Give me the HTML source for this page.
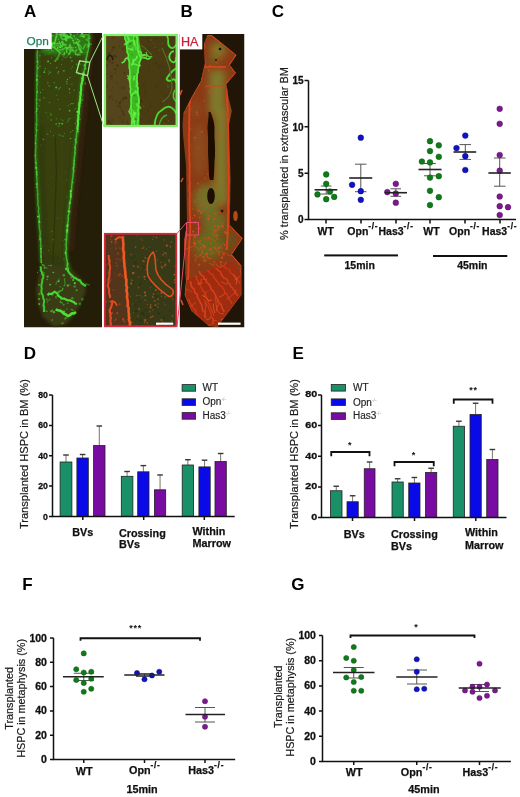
<!DOCTYPE html>
<html><head><meta charset="utf-8">
<style>
html,body{margin:0;padding:0;background:#fff;}
body{width:520px;height:797px;overflow:hidden;position:relative;}
svg{position:absolute;left:0;top:0;}
text{font-family:"Liberation Sans",Arial,sans-serif;}
.b{font-weight:bold;}
.lt{font-size:17px;font-weight:bold;fill:#000;}
.tk{font-size:10px;font-weight:bold;fill:#111;stroke:#111;stroke-width:0.3;}
.lb{stroke:#111;stroke-width:0.25;}
.ax{stroke:#111;stroke-width:1.5;fill:none;}
.gp{fill:#0e7a18;stroke:#0a5c10;stroke-width:0.5;}
.bp{fill:#1014c0;stroke:#080a90;stroke-width:0.5;}
.pp{fill:#7a1a8c;stroke:#5a0a6a;stroke-width:0.5;}
.ml{stroke:#222;stroke-width:1.6;}
.el{stroke:#555;stroke-width:1;}
.eb{stroke:#7a7670;stroke-width:1;}
.ec{stroke:#3a3632;stroke-width:1.4;}
.bar{stroke:#222;stroke-width:0.8;}
</style></head>
<body>
<svg width="520" height="797" viewBox="0 0 520 797">
<!-- panel letters -->
<text class="lt" x="24" y="16.8">A</text>
<text class="lt" x="180.5" y="16.8">B</text>
<text class="lt" x="271.8" y="16.8">C</text>
<text class="lt" x="23.8" y="358.8">D</text>
<text class="lt" x="292.5" y="358.8">E</text>
<text class="lt" x="22.3" y="590">F</text>
<text class="lt" x="291.3" y="589.6">G</text>

<defs>
  <filter id="bl" x="-5%" y="-5%" width="110%" height="110%"><feGaussianBlur stdDeviation="0.6"/></filter>
  <filter id="bl2" x="-10%" y="-10%" width="120%" height="120%"><feGaussianBlur stdDeviation="1.5"/></filter>
  <filter id="bl4" x="-30%" y="-30%" width="160%" height="160%"><feGaussianBlur stdDeviation="3.5"/></filter>
  <clipPath id="cA"><rect x="24" y="33" width="78" height="294.5"/></clipPath>
  <clipPath id="cB"><rect x="179.5" y="34" width="65" height="293.5"/></clipPath>
  <clipPath id="cG"><rect x="104" y="34" width="73.5" height="93"/></clipPath>
  <clipPath id="cR"><rect x="104" y="233" width="73" height="94"/></clipPath>
  <clipPath id="cBo"><path d="M207,35.4 L211.6,35.1 L236.5,54.9 L229.8,65 L235.9,73 L226.5,83.8 L227.8,94.6 L231.8,110.8 L229,125 L230.5,178.8 L229.8,225 L242.6,238.5 L231.8,254.6 L241.3,265.4 L241.3,295 L217,327.3 L209,326 L191.5,311 L184.7,295 L186,281.5 L184,240 L187,225 L186,165 L183,135 L182.5,125 L183.4,113.4 L191.5,97.3 L200.9,81.1 L204.9,63.6 L204.2,42.8 Z"/></clipPath>
</defs>
<g id="panelA" clip-path="url(#cA)">
<rect x="24" y="33" width="78" height="294.5" fill="#241d08"/>
<g filter="url(#bl2)">
<path d="M50,33 L93,33 L88,60 L84,80 L81,109 L77,140 L72.5,180 L68,218 L66,252 L67,262 L74,272 L84,282 L86,292 L80,304 L74,316 L66,324 L54,327 L44,318 L38,305 L36,290 L39,275 L41.3,263 L40.6,242 L37.6,195 L35.5,154 L36.5,120 L37,80 L37,52 L44,46 Z" fill="#333a0e"/>
<path d="M44,60 L78,58 L74,120 L66,200 L60,255 L50,255 L46,200 L44,120 Z" fill="#373f10"/>
<path d="M50,33 L90,33 L89,50 L82,58 L60,57 L40,52 Z" fill="#2e7818"/>
<path d="M38,54 L88,54 L82,120 L40,125 Z" fill="#384212" opacity="0.9"/>
<path d="M40,266 L68,266 L86,286 L80,306 L66,324 L54,327 L42,316 L37,292 Z" fill="#3a3a12"/>
<path d="M88,40 L84,80 L80,109 L77,140 L72.5,180 L68,218 L66,252 L74,250 L78,200 L84,140 L88,105 L93,60 L95,36 Z" fill="#36220c" opacity="0.85"/>
</g>
<path d="M55,135 L56.5,170 L55,210 L53,262" stroke="#2a2a0a" stroke-width="1.2" fill="none" opacity="0.6" filter="url(#bl)"/>
<path d="M62,140 L62,200 L60,262" stroke="#46461a" stroke-width="1" fill="none" opacity="0.6" filter="url(#bl)"/>
<g filter="url(#bl)">
<path d="M61.6,36.5 L61.9,34.2 L63.5,29.8" stroke="#52d83a" stroke-width="1.6" fill="none" opacity="0.51"/><path d="M51.6,42.6 L52.7,47.0 L55.1,48.1 L58.7,51.3 L60.6,53.9" stroke="#52d83a" stroke-width="1.6" fill="none" opacity="0.89"/><path d="M60.2,36.3 L62.7,39.4 L66.4,39.2 L68.0,37.5" stroke="#52d83a" stroke-width="1.6" fill="none" opacity="0.76"/><path d="M71.7,47.2 L68.8,47.8 L65.5,47.8 L61.6,49.8 L58.8,49.8" stroke="#52d83a" stroke-width="1.6" fill="none" opacity="0.69"/><path d="M70.1,53.1 L70.4,50.9 L70.8,48.5 L69.7,43.8" stroke="#52d83a" stroke-width="1.6" fill="none" opacity="0.61"/><path d="M88.4,34.8 L85.4,34.8 L81.0,35.0 L79.9,37.0" stroke="#52d83a" stroke-width="1.6" fill="none" opacity="0.53"/><path d="M77.3,34.5 L78.4,29.7 L80.8,28.1 L83.5,25.2" stroke="#52d83a" stroke-width="1.6" fill="none" opacity="0.41"/><path d="M67.4,36.9 L70.2,37.0 L72.8,38.9" stroke="#52d83a" stroke-width="1.6" fill="none" opacity="0.86"/><path d="M68.9,36.8 L64.6,35.5 L63.5,32.9 L61.8,30.3" stroke="#52d83a" stroke-width="1.6" fill="none" opacity="0.84"/><path d="M88.2,36.5 L88.4,38.5 L86.7,40.4" stroke="#52d83a" stroke-width="1.6" fill="none" opacity="0.54"/><path d="M54.1,45.3 L55.0,41.3 L55.9,37.6 L57.2,35.9" stroke="#52d83a" stroke-width="1.6" fill="none" opacity="0.85"/><path d="M80.8,53.1 L80.9,49.9 L81.0,46.7 L77.7,43.0" stroke="#52d83a" stroke-width="1.6" fill="none" opacity="0.62"/><path d="M52.6,46.8 L54.9,46.4 L56.7,45.3 L60.3,46.8 L62.7,45.5" stroke="#52d83a" stroke-width="1.6" fill="none" opacity="0.57"/><path d="M63.3,35.8 L64.9,33.4 L63.7,29.3 L64.7,26.0" stroke="#52d83a" stroke-width="1.6" fill="none" opacity="0.75"/><path d="M69.7,37.7 L71.2,34.4 L68.8,31.7 L70.8,27.5" stroke="#52d83a" stroke-width="1.6" fill="none" opacity="0.75"/><path d="M59.0,41.4 L60.8,45.4 L62.8,47.1" stroke="#52d83a" stroke-width="1.6" fill="none" opacity="0.81"/><path d="M81.9,51.8 L79.4,49.4 L78.3,44.5" stroke="#52d83a" stroke-width="1.6" fill="none" opacity="0.80"/><path d="M67.8,37.5 L63.7,35.0 L64.3,30.2 L63.8,27.6" stroke="#52d83a" stroke-width="1.6" fill="none" opacity="0.51"/><path d="M56.3,37.7 L56.4,34.3 L58.0,30.2 L55.8,26.9 L57.4,22.9" stroke="#52d83a" stroke-width="1.6" fill="none" opacity="0.78"/><path d="M68.1,37.1 L64.8,33.6 L64.1,30.2 L64.9,28.1" stroke="#52d83a" stroke-width="1.6" fill="none" opacity="0.48"/><path d="M89.7,33.6 L89.1,31.3 L91.5,27.0 L93.9,25.1" stroke="#52d83a" stroke-width="1.6" fill="none" opacity="0.67"/><path d="M53.5,33.3 L55.3,29.5 L53.2,25.0 L49.0,23.1 L47.0,24.9" stroke="#52d83a" stroke-width="1.6" fill="none" opacity="0.65"/><path d="M80.1,40.5 L77.1,43.5 L73.1,42.7" stroke="#52d83a" stroke-width="1.6" fill="none" opacity="0.81"/><path d="M69.7,52.0 L72.5,49.8 L71.6,46.6" stroke="#52d83a" stroke-width="1.6" fill="none" opacity="0.49"/><path d="M55.2,43.9 L51.5,42.5 L48.3,41.0 L46.2,36.8 L43.7,36.8" stroke="#52d83a" stroke-width="1.6" fill="none" opacity="0.42"/><path d="M52.1,43.4 L55.9,43.5 L59.5,43.7" stroke="#52d83a" stroke-width="1.6" fill="none" opacity="0.75"/><path d="M67.0,45.3 L62.6,43.7 L62.2,41.0" stroke="#52d83a" stroke-width="1.6" fill="none" opacity="0.68"/><path d="M53.8,35.8 L50.5,35.6 L48.1,37.4" stroke="#52d83a" stroke-width="1.6" fill="none" opacity="0.46"/><path d="M80.6,54.6 L76.0,54.4 L74.9,52.0 L77.0,49.5" stroke="#52d83a" stroke-width="1.6" fill="none" opacity="0.64"/><path d="M54.8,42.9 L51.7,43.2 L50.2,45.9 L49.9,49.3" stroke="#52d83a" stroke-width="1.6" fill="none" opacity="0.75"/><path d="M64.1,44.9 L67.0,48.7 L71.5,50.0" stroke="#52d83a" stroke-width="1.6" fill="none" opacity="0.44"/><path d="M59.4,53.8 L57.9,58.1 L54.6,61.6" stroke="#52d83a" stroke-width="1.6" fill="none" opacity="0.60"/><path d="M70.5,44.8 L69.4,46.7 L66.6,48.5 L66.7,53.3" stroke="#52d83a" stroke-width="1.6" fill="none" opacity="0.72"/><path d="M81.7,34.9 L81.9,32.6 L77.5,30.2" stroke="#52d83a" stroke-width="1.6" fill="none" opacity="0.61"/><path d="M86.4,47.3 L88.6,46.5 L89.5,44.5 L88.6,41.7 L85.6,38.7" stroke="#52d83a" stroke-width="1.6" fill="none" opacity="0.54"/><path d="M69.0,37.1 L66.9,36.6 L64.8,39.4" stroke="#52d83a" stroke-width="1.6" fill="none" opacity="0.89"/><path d="M69.6,38.7 L66.6,37.3 L62.5,35.4 L59.0,34.9 L55.0,32.0" stroke="#52d83a" stroke-width="1.6" fill="none" opacity="0.57"/><path d="M83.0,49.3 L85.1,44.8 L87.1,44.2 L91.7,44.2" stroke="#52d83a" stroke-width="1.6" fill="none" opacity="0.62"/>
<circle cx="50.3" cy="48.3" r="0.87" fill="#5ae840" opacity="0.70"/><circle cx="88.8" cy="46.8" r="1.08" fill="#5ae840" opacity="0.43"/><circle cx="55.8" cy="39.2" r="0.60" fill="#5ae840" opacity="0.62"/><circle cx="61.6" cy="33.8" r="1.22" fill="#5ae840" opacity="0.53"/><circle cx="55.7" cy="40.7" r="0.66" fill="#5ae840" opacity="0.57"/><circle cx="75.6" cy="38.7" r="1.14" fill="#5ae840" opacity="0.45"/><circle cx="82.3" cy="36.3" r="1.01" fill="#5ae840" opacity="0.64"/><circle cx="60.6" cy="47.5" r="0.66" fill="#5ae840" opacity="0.97"/><circle cx="83.8" cy="36.6" r="1.22" fill="#5ae840" opacity="0.87"/><circle cx="73.1" cy="50.6" r="1.10" fill="#5ae840" opacity="0.70"/><circle cx="59.9" cy="47.2" r="0.70" fill="#5ae840" opacity="0.89"/><circle cx="78.0" cy="44.8" r="0.90" fill="#5ae840" opacity="0.82"/><circle cx="69.2" cy="53.9" r="1.13" fill="#5ae840" opacity="0.74"/><circle cx="82.1" cy="33.4" r="1.08" fill="#5ae840" opacity="0.88"/><circle cx="77.9" cy="55.0" r="1.05" fill="#5ae840" opacity="0.45"/><circle cx="49.8" cy="47.7" r="1.27" fill="#5ae840" opacity="0.63"/><circle cx="67.0" cy="34.2" r="0.61" fill="#5ae840" opacity="0.72"/><circle cx="58.3" cy="39.1" r="0.92" fill="#5ae840" opacity="0.44"/><circle cx="51.9" cy="45.1" r="1.12" fill="#5ae840" opacity="0.68"/><circle cx="82.0" cy="52.5" r="0.76" fill="#5ae840" opacity="0.85"/><circle cx="57.7" cy="47.9" r="0.92" fill="#5ae840" opacity="0.91"/><circle cx="60.1" cy="34.1" r="1.04" fill="#5ae840" opacity="0.52"/><circle cx="73.2" cy="40.6" r="1.06" fill="#5ae840" opacity="0.82"/><circle cx="74.1" cy="36.1" r="0.94" fill="#5ae840" opacity="0.69"/><circle cx="88.8" cy="35.3" r="0.75" fill="#5ae840" opacity="0.69"/><circle cx="77.8" cy="39.6" r="0.93" fill="#5ae840" opacity="0.86"/><circle cx="61.1" cy="35.0" r="0.93" fill="#5ae840" opacity="0.57"/><circle cx="51.2" cy="44.7" r="1.30" fill="#5ae840" opacity="1.00"/><circle cx="64.2" cy="54.1" r="1.25" fill="#5ae840" opacity="0.44"/><circle cx="51.8" cy="50.2" r="0.78" fill="#5ae840" opacity="0.62"/><circle cx="73.3" cy="47.5" r="0.80" fill="#5ae840" opacity="0.47"/><circle cx="63.3" cy="44.5" r="1.21" fill="#5ae840" opacity="0.64"/><circle cx="76.6" cy="42.3" r="1.11" fill="#5ae840" opacity="0.65"/><circle cx="63.8" cy="35.8" r="0.83" fill="#5ae840" opacity="0.59"/><circle cx="62.2" cy="42.2" r="1.26" fill="#5ae840" opacity="0.52"/><circle cx="48.5" cy="50.0" r="0.78" fill="#5ae840" opacity="0.44"/><circle cx="64.4" cy="53.0" r="0.65" fill="#5ae840" opacity="0.96"/><circle cx="79.7" cy="52.6" r="0.80" fill="#5ae840" opacity="0.43"/><circle cx="75.8" cy="47.6" r="0.70" fill="#5ae840" opacity="0.98"/><circle cx="66.3" cy="40.3" r="1.14" fill="#5ae840" opacity="0.87"/>
<path d="M59.8,52.6 L61.9,51.4 L63.9,50.6 L64.1,48.5" stroke="#3cb02a" stroke-width="1.0" fill="none" opacity="0.48"/><path d="M76.4,108.0 L74.6,108.7 L73.9,110.3" stroke="#3cb02a" stroke-width="1.0" fill="none" opacity="0.41"/><path d="M51.0,116.5 L50.7,114.9 L50.5,113.2 L49.4,112.4" stroke="#3cb02a" stroke-width="1.0" fill="none" opacity="0.38"/><path d="M84.2,94.7 L82.7,95.7 L82.5,97.1 L83.7,98.2" stroke="#3cb02a" stroke-width="1.0" fill="none" opacity="0.34"/><path d="M50.2,73.3 L49.3,71.8 L48.0,70.4" stroke="#3cb02a" stroke-width="1.0" fill="none" opacity="0.45"/><path d="M55.2,55.6 L56.5,57.0 L57.4,59.1 L58.8,59.8" stroke="#3cb02a" stroke-width="1.0" fill="none" opacity="0.40"/><path d="M58.4,90.1 L59.0,88.5 L61.0,87.3" stroke="#3cb02a" stroke-width="1.0" fill="none" opacity="0.69"/><path d="M63.0,56.6 L65.2,57.6 L66.6,57.3 L67.5,55.7 L69.6,54.4" stroke="#3cb02a" stroke-width="1.0" fill="none" opacity="0.59"/><path d="M71.0,118.8 L69.9,118.4 L68.2,119.3 L68.3,121.4 L66.5,122.4" stroke="#3cb02a" stroke-width="1.0" fill="none" opacity="0.51"/><path d="M60.3,118.7 L61.8,120.0 L63.2,120.6 L64.2,121.3" stroke="#3cb02a" stroke-width="1.0" fill="none" opacity="0.42"/><path d="M61.5,136.3 L60.5,135.2 L58.1,134.6" stroke="#3cb02a" stroke-width="1.0" fill="none" opacity="0.58"/><path d="M53.7,52.0 L52.4,51.5 L50.8,52.1 L49.3,53.1 L47.2,53.5" stroke="#3cb02a" stroke-width="1.0" fill="none" opacity="0.44"/><path d="M58.2,50.6 L59.5,51.9 L61.7,52.1 L63.1,51.0 L63.9,48.8" stroke="#3cb02a" stroke-width="1.0" fill="none" opacity="0.34"/><path d="M69.8,104.9 L71.2,103.4 L72.5,103.7 L74.0,103.6" stroke="#3cb02a" stroke-width="1.0" fill="none" opacity="0.69"/>
<circle cx="45.2" cy="54.7" r="0.53" fill="#50c83c" opacity="0.54"/><circle cx="75.4" cy="139.8" r="0.97" fill="#50c83c" opacity="0.50"/><circle cx="47.5" cy="134.2" r="0.87" fill="#50c83c" opacity="0.32"/><circle cx="71.9" cy="84.1" r="0.69" fill="#50c83c" opacity="0.50"/><circle cx="46.6" cy="50.3" r="0.64" fill="#50c83c" opacity="0.51"/><circle cx="86.7" cy="61.1" r="0.98" fill="#50c83c" opacity="0.42"/><circle cx="56.2" cy="123.9" r="0.91" fill="#50c83c" opacity="0.56"/><circle cx="40.5" cy="92.6" r="0.69" fill="#50c83c" opacity="0.85"/><circle cx="47.8" cy="82.8" r="0.95" fill="#50c83c" opacity="0.32"/><circle cx="59.0" cy="123.1" r="0.88" fill="#50c83c" opacity="0.32"/><circle cx="39.8" cy="55.6" r="0.96" fill="#50c83c" opacity="0.45"/><circle cx="76.1" cy="130.9" r="0.67" fill="#50c83c" opacity="0.46"/><circle cx="51.4" cy="114.5" r="0.66" fill="#50c83c" opacity="0.47"/><circle cx="86.1" cy="52.2" r="0.62" fill="#50c83c" opacity="0.59"/><circle cx="57.7" cy="72.6" r="0.71" fill="#50c83c" opacity="0.60"/><circle cx="85.3" cy="66.5" r="0.90" fill="#50c83c" opacity="0.74"/><circle cx="80.0" cy="119.6" r="0.80" fill="#50c83c" opacity="0.50"/><circle cx="54.3" cy="82.6" r="0.89" fill="#50c83c" opacity="0.35"/><circle cx="48.1" cy="117.8" r="0.62" fill="#50c83c" opacity="0.34"/><circle cx="39.7" cy="99.7" r="0.66" fill="#50c83c" opacity="0.89"/><circle cx="51.5" cy="57.6" r="0.55" fill="#50c83c" opacity="0.60"/><circle cx="74.2" cy="90.2" r="0.62" fill="#50c83c" opacity="0.55"/><circle cx="69.6" cy="110.7" r="0.87" fill="#50c83c" opacity="0.81"/><circle cx="71.9" cy="60.9" r="0.92" fill="#50c83c" opacity="0.48"/><circle cx="66.9" cy="83.6" r="0.87" fill="#50c83c" opacity="0.42"/><circle cx="50.6" cy="72.1" r="0.58" fill="#50c83c" opacity="0.83"/><circle cx="67.5" cy="79.4" r="0.70" fill="#50c83c" opacity="0.90"/><circle cx="63.9" cy="70.8" r="0.90" fill="#50c83c" opacity="0.69"/><circle cx="62.2" cy="123.7" r="0.92" fill="#50c83c" opacity="0.85"/><circle cx="40.1" cy="76.4" r="0.56" fill="#50c83c" opacity="0.41"/><circle cx="85.4" cy="83.5" r="0.93" fill="#50c83c" opacity="0.57"/><circle cx="51.3" cy="120.0" r="0.97" fill="#50c83c" opacity="0.36"/><circle cx="68.4" cy="105.8" r="0.61" fill="#50c83c" opacity="0.52"/><circle cx="45.2" cy="68.4" r="0.63" fill="#50c83c" opacity="0.66"/><circle cx="71.2" cy="68.3" r="0.51" fill="#50c83c" opacity="0.50"/><circle cx="72.6" cy="66.7" r="0.66" fill="#50c83c" opacity="0.42"/><circle cx="78.6" cy="99.3" r="0.53" fill="#50c83c" opacity="0.36"/><circle cx="58.2" cy="99.5" r="0.82" fill="#50c83c" opacity="0.35"/><circle cx="46.3" cy="112.6" r="0.70" fill="#50c83c" opacity="0.47"/><circle cx="53.7" cy="135.8" r="0.66" fill="#50c83c" opacity="0.64"/><circle cx="56.2" cy="87.5" r="0.93" fill="#50c83c" opacity="0.90"/><circle cx="56.6" cy="67.7" r="0.86" fill="#50c83c" opacity="0.42"/><circle cx="59.6" cy="123.8" r="0.70" fill="#50c83c" opacity="0.83"/><circle cx="61.5" cy="64.6" r="0.51" fill="#50c83c" opacity="0.63"/><circle cx="70.7" cy="131.9" r="0.54" fill="#50c83c" opacity="0.67"/><circle cx="56.9" cy="95.4" r="0.57" fill="#50c83c" opacity="0.47"/><circle cx="64.6" cy="133.3" r="0.55" fill="#50c83c" opacity="0.59"/><circle cx="48.1" cy="61.4" r="0.97" fill="#50c83c" opacity="0.89"/><circle cx="62.6" cy="54.8" r="0.96" fill="#50c83c" opacity="0.53"/><circle cx="80.1" cy="64.4" r="0.89" fill="#50c83c" opacity="0.43"/><circle cx="58.6" cy="126.2" r="0.91" fill="#50c83c" opacity="0.41"/><circle cx="49.1" cy="86.0" r="0.76" fill="#50c83c" opacity="0.53"/><circle cx="44.3" cy="72.2" r="0.86" fill="#50c83c" opacity="0.84"/><circle cx="40.1" cy="100.6" r="0.88" fill="#50c83c" opacity="0.32"/><circle cx="80.7" cy="60.6" r="0.80" fill="#50c83c" opacity="0.63"/><circle cx="70.0" cy="77.6" r="0.71" fill="#50c83c" opacity="0.65"/><circle cx="59.7" cy="109.3" r="0.72" fill="#50c83c" opacity="0.56"/><circle cx="39.2" cy="105.7" r="0.74" fill="#50c83c" opacity="0.44"/><circle cx="76.9" cy="120.2" r="0.73" fill="#50c83c" opacity="0.41"/><circle cx="62.1" cy="59.6" r="0.56" fill="#50c83c" opacity="0.56"/><circle cx="42.7" cy="89.8" r="0.76" fill="#50c83c" opacity="0.32"/><circle cx="70.5" cy="57.4" r="0.87" fill="#50c83c" opacity="0.77"/><circle cx="64.1" cy="54.9" r="0.75" fill="#50c83c" opacity="0.53"/><circle cx="86.5" cy="62.3" r="0.93" fill="#50c83c" opacity="0.90"/><circle cx="75.3" cy="123.3" r="0.60" fill="#50c83c" opacity="0.89"/><circle cx="63.1" cy="136.1" r="0.96" fill="#50c83c" opacity="0.40"/><circle cx="78.2" cy="133.8" r="0.53" fill="#50c83c" opacity="0.51"/><circle cx="76.6" cy="64.3" r="0.95" fill="#50c83c" opacity="0.46"/><circle cx="79.6" cy="62.9" r="0.75" fill="#50c83c" opacity="0.85"/><circle cx="48.6" cy="73.7" r="0.75" fill="#50c83c" opacity="0.49"/><circle cx="39.9" cy="66.4" r="0.58" fill="#50c83c" opacity="0.86"/><circle cx="72.7" cy="130.6" r="0.58" fill="#50c83c" opacity="0.77"/><circle cx="43.9" cy="97.8" r="0.82" fill="#50c83c" opacity="0.52"/><circle cx="82.5" cy="100.0" r="0.79" fill="#50c83c" opacity="0.83"/><circle cx="43.3" cy="139.4" r="0.81" fill="#50c83c" opacity="0.54"/><circle cx="78.7" cy="73.8" r="1.00" fill="#50c83c" opacity="0.65"/><circle cx="56.4" cy="118.8" r="0.72" fill="#50c83c" opacity="0.41"/><circle cx="75.9" cy="54.3" r="0.91" fill="#50c83c" opacity="0.45"/><circle cx="70.6" cy="138.6" r="0.79" fill="#50c83c" opacity="0.70"/><circle cx="53.9" cy="50.2" r="0.52" fill="#50c83c" opacity="0.39"/><circle cx="69.4" cy="88.9" r="0.76" fill="#50c83c" opacity="0.84"/><circle cx="44.7" cy="70.5" r="0.83" fill="#50c83c" opacity="0.31"/><circle cx="38.1" cy="81.9" r="0.55" fill="#50c83c" opacity="0.51"/><circle cx="49.4" cy="102.5" r="0.79" fill="#50c83c" opacity="0.42"/><circle cx="69.8" cy="92.7" r="0.57" fill="#50c83c" opacity="0.86"/><circle cx="50.4" cy="63.4" r="0.55" fill="#50c83c" opacity="0.68"/><circle cx="58.5" cy="73.8" r="0.51" fill="#50c83c" opacity="0.69"/><circle cx="66.7" cy="81.5" r="0.82" fill="#50c83c" opacity="0.57"/><circle cx="50.7" cy="131.3" r="0.52" fill="#50c83c" opacity="0.62"/><circle cx="58.7" cy="71.4" r="0.53" fill="#50c83c" opacity="0.77"/>
<circle cx="73.9" cy="157.4" r="0.48" fill="#4aa834" opacity="0.44"/><circle cx="58.3" cy="218.3" r="0.73" fill="#4aa834" opacity="0.27"/><circle cx="51.1" cy="176.6" r="0.42" fill="#4aa834" opacity="0.56"/><circle cx="68.2" cy="227.3" r="0.40" fill="#4aa834" opacity="0.54"/><circle cx="66.8" cy="196.8" r="0.70" fill="#4aa834" opacity="0.38"/><circle cx="48.1" cy="152.8" r="0.49" fill="#4aa834" opacity="0.22"/><circle cx="52.1" cy="231.5" r="0.68" fill="#4aa834" opacity="0.54"/><circle cx="65.6" cy="172.5" r="0.62" fill="#4aa834" opacity="0.37"/><circle cx="68.4" cy="203.8" r="0.51" fill="#4aa834" opacity="0.46"/><circle cx="71.7" cy="141.9" r="0.50" fill="#4aa834" opacity="0.29"/><circle cx="66.9" cy="179.9" r="0.75" fill="#4aa834" opacity="0.33"/><circle cx="48.6" cy="250.7" r="0.65" fill="#4aa834" opacity="0.48"/><circle cx="63.9" cy="259.4" r="0.59" fill="#4aa834" opacity="0.54"/><circle cx="65.1" cy="244.6" r="0.57" fill="#4aa834" opacity="0.49"/><circle cx="60.5" cy="177.5" r="0.48" fill="#4aa834" opacity="0.45"/><circle cx="42.8" cy="251.1" r="0.46" fill="#4aa834" opacity="0.21"/><circle cx="43.8" cy="253.3" r="0.54" fill="#4aa834" opacity="0.26"/><circle cx="41.0" cy="145.1" r="0.68" fill="#4aa834" opacity="0.45"/><circle cx="65.1" cy="229.9" r="0.43" fill="#4aa834" opacity="0.44"/><circle cx="53.1" cy="239.7" r="0.73" fill="#4aa834" opacity="0.56"/><circle cx="42.4" cy="245.9" r="0.77" fill="#4aa834" opacity="0.58"/><circle cx="43.9" cy="165.1" r="0.44" fill="#4aa834" opacity="0.21"/><circle cx="62.8" cy="240.7" r="0.65" fill="#4aa834" opacity="0.31"/><circle cx="43.6" cy="151.9" r="0.70" fill="#4aa834" opacity="0.28"/><circle cx="51.5" cy="191.7" r="0.41" fill="#4aa834" opacity="0.30"/>
<path d="M37.4,50.1 L37.4,51.9 L37.6,54.0 L37.5,56.0 L37.2,58.0 L37.3,60.1 L37.2,62.1 L37.3,63.9 L37.4,65.8 L37.3,67.9 L37.0,69.9 L37.2,72.2 L36.9,74.0 L37.1,76.1 L36.9,78.0 L36.9,80.1 L36.9,82.2 L36.9,83.9 L37.0,86.0 L36.7,88.1 L36.7,90.1 L36.9,92.1 L36.9,93.9 L36.8,96.0 L36.9,97.8 L36.9,99.8 L36.6,101.9 L36.9,104.0 L36.6,106.2 L36.5,108.0 L36.6,110.1 L36.7,112.1 L36.5,113.9 L36.4,116.1 L36.6,118.1 L36.4,120.0 L36.6,122.0 L36.2,124.0 L36.5,125.9 L36.1,127.9 L36.3,130.1 L36.0,131.9 L36.0,133.9 L36.0,135.9 L35.9,137.9 L36.1,140.1 L35.7,142.2 L35.6,144.0 L35.9,146.1 L35.8,148.0 L35.5,150.1 L35.4,151.9 L35.5,153.8 L35.6,156.2 L35.8,158.1 L35.9,160.1 L35.8,162.2 L36.0,164.3 L36.3,166.3 L36.3,168.4 L36.3,170.3 L36.5,172.6 L36.7,174.6 L36.8,176.6 L36.8,178.6 L36.8,180.7 L36.8,182.7 L37.2,184.8 L37.2,186.7 L37.3,188.8 L37.4,190.9 L37.6,193.1 L37.5,195.1 L37.8,197.0 L37.9,199.3 L37.8,201.1 L38.0,203.3 L38.4,205.2 L38.2,207.3 L38.5,209.4 L38.6,211.4 L38.9,213.4 L38.9,215.6 L38.9,217.6 L39.1,219.6 L39.1,221.8 L39.4,223.4 L39.5,225.6 L39.5,227.7 L39.8,229.8 L39.9,231.7 L40.0,233.9 L40.4,235.9 L40.2,238.0 L40.4,239.8 L40.5,242.1 L40.8,244.2 L40.7,246.2 L40.7,248.5 L40.8,250.5 L41.1,252.6 L41.0,254.5 L41.1,256.6 L41.3,258.7 L41.4,260.8 L41.3,263.0" stroke="#2f8a1c" stroke-width="4" fill="none" opacity="0.55" filter="url(#bl2)"/>
<path d="M37.4,49.8 L37.4,51.7 L37.0,54.2 L37.2,55.8 L37.2,58.0 L37.3,60.1 L37.4,61.9 L37.6,64.3 L36.9,66.3 L37.5,68.2 L36.9,70.3 L37.2,71.6 L36.7,74.4 L37.2,75.8 L36.7,77.7 L36.8,80.2 L36.9,81.7 L37.3,84.2 L36.7,86.3 L37.0,88.2 L37.0,90.3 L37.1,92.3 L36.6,94.2 L36.8,96.2 L36.7,98.3 L36.8,99.8 L36.5,101.7 L36.7,103.6 L36.6,105.7 L36.6,108.0 L36.7,110.3 L36.2,112.3 L36.5,114.1 L36.7,116.3 L36.4,117.9 L36.9,119.7 L36.6,122.1 L36.0,124.1 L36.5,126.3 L36.1,128.4 L36.2,130.0 L36.5,131.6 L36.3,134.1 L35.9,136.3 L35.9,138.0 L35.9,140.2 L35.6,141.9 L35.7,144.0 L36.0,145.8 L35.9,147.9 L35.6,149.8 L35.6,152.4 L35.6,154.2 L35.5,155.9 L35.5,158.2 L35.9,160.4 L35.6,162.4 L36.3,164.3 L35.8,166.1 L35.8,168.1 L36.7,170.5 L36.6,172.7 L36.9,174.6 L36.7,176.7 L36.9,178.7 L37.0,180.4 L37.1,182.7 L37.3,184.4 L36.9,186.4 L37.5,189.2 L37.5,190.8 L37.8,193.2 L37.6,194.8 L37.6,197.0 L37.7,199.0 L38.1,201.5 L37.8,203.2 L37.9,204.9 L38.6,207.3 L38.8,209.3 L38.3,211.3 L38.8,213.7 L39.3,215.4 L39.0,217.2 L39.3,219.3 L39.0,221.2 L39.0,223.8 L39.3,226.0 L39.4,228.0 L39.5,229.4 L40.1,231.6 L40.3,233.6 L39.8,236.1 L40.5,238.2 L40.7,239.6 L40.7,242.2 L40.6,244.4 L40.5,246.6 L41.0,247.9 L40.5,250.5 L41.2,252.2 L40.9,254.8 L40.8,257.0 L41.1,258.4 L41.1,261.0 L41.3,263.0" stroke="#42ac30" stroke-width="1.4" fill="none" opacity="0.9"/>
<circle cx="35.7" cy="143.3" r="0.90" fill="#56e040" opacity="0.62"/><circle cx="36.9" cy="187.0" r="0.69" fill="#56e040" opacity="0.87"/><circle cx="41.0" cy="250.6" r="0.65" fill="#56e040" opacity="0.44"/><circle cx="40.8" cy="256.6" r="0.67" fill="#56e040" opacity="0.76"/><circle cx="41.5" cy="257.6" r="0.65" fill="#56e040" opacity="0.66"/><circle cx="39.9" cy="239.7" r="0.80" fill="#56e040" opacity="0.94"/><circle cx="39.3" cy="222.0" r="0.63" fill="#56e040" opacity="0.65"/><circle cx="37.0" cy="174.1" r="0.52" fill="#56e040" opacity="0.90"/><circle cx="39.8" cy="222.4" r="0.64" fill="#56e040" opacity="0.91"/><circle cx="38.9" cy="220.9" r="0.67" fill="#56e040" opacity="0.45"/><circle cx="36.3" cy="167.7" r="0.88" fill="#56e040" opacity="0.96"/><circle cx="36.2" cy="99.4" r="0.73" fill="#56e040" opacity="0.52"/><circle cx="36.7" cy="103.4" r="0.73" fill="#56e040" opacity="0.45"/><circle cx="39.4" cy="221.5" r="0.79" fill="#56e040" opacity="0.94"/><circle cx="39.8" cy="238.4" r="0.79" fill="#56e040" opacity="0.51"/><circle cx="37.2" cy="91.7" r="0.68" fill="#56e040" opacity="0.74"/><circle cx="35.8" cy="135.8" r="0.52" fill="#56e040" opacity="1.00"/><circle cx="36.8" cy="130.2" r="0.89" fill="#56e040" opacity="0.49"/><circle cx="36.4" cy="177.8" r="0.51" fill="#56e040" opacity="0.42"/><circle cx="41.6" cy="260.5" r="0.78" fill="#56e040" opacity="0.56"/><circle cx="37.9" cy="216.5" r="0.88" fill="#56e040" opacity="0.89"/><circle cx="41.0" cy="255.4" r="0.60" fill="#56e040" opacity="0.51"/><circle cx="37.8" cy="68.0" r="0.94" fill="#56e040" opacity="0.67"/><circle cx="41.1" cy="251.7" r="0.80" fill="#56e040" opacity="0.64"/><circle cx="37.4" cy="75.5" r="0.78" fill="#56e040" opacity="0.78"/><circle cx="40.7" cy="253.3" r="0.72" fill="#56e040" opacity="0.50"/><circle cx="41.4" cy="255.7" r="0.52" fill="#56e040" opacity="0.55"/><circle cx="37.2" cy="124.4" r="0.92" fill="#56e040" opacity="0.43"/><circle cx="38.9" cy="216.8" r="0.99" fill="#56e040" opacity="0.43"/><circle cx="37.0" cy="79.7" r="0.84" fill="#56e040" opacity="0.58"/><circle cx="36.6" cy="175.8" r="0.66" fill="#56e040" opacity="0.55"/><circle cx="36.8" cy="76.5" r="0.62" fill="#56e040" opacity="0.49"/><circle cx="38.4" cy="194.4" r="0.60" fill="#56e040" opacity="0.42"/><circle cx="41.0" cy="248.7" r="0.93" fill="#56e040" opacity="0.93"/><circle cx="36.8" cy="79.9" r="0.96" fill="#56e040" opacity="0.91"/><circle cx="36.6" cy="184.0" r="0.91" fill="#56e040" opacity="0.69"/><circle cx="37.3" cy="184.1" r="0.53" fill="#56e040" opacity="0.83"/><circle cx="36.8" cy="168.7" r="0.63" fill="#56e040" opacity="0.65"/><circle cx="36.8" cy="84.1" r="0.67" fill="#56e040" opacity="0.50"/><circle cx="35.1" cy="155.6" r="0.56" fill="#56e040" opacity="0.99"/><circle cx="37.9" cy="61.7" r="0.61" fill="#56e040" opacity="0.69"/><circle cx="36.6" cy="111.3" r="0.68" fill="#56e040" opacity="0.99"/><circle cx="41.5" cy="262.5" r="0.64" fill="#56e040" opacity="0.94"/><circle cx="37.2" cy="61.8" r="0.99" fill="#56e040" opacity="0.41"/><circle cx="39.2" cy="222.1" r="0.50" fill="#56e040" opacity="0.90"/><circle cx="36.1" cy="162.7" r="0.96" fill="#56e040" opacity="0.53"/><circle cx="36.6" cy="172.0" r="0.89" fill="#56e040" opacity="0.83"/><circle cx="37.0" cy="92.0" r="0.80" fill="#56e040" opacity="0.70"/><circle cx="36.8" cy="109.0" r="0.85" fill="#56e040" opacity="0.89"/><circle cx="36.6" cy="174.4" r="0.87" fill="#56e040" opacity="0.64"/>
<path d="M89.1,35.8 L89.0,37.9 L89.0,40.1 L88.7,41.8 L88.8,44.0 L88.7,45.9 L88.4,48.1 L88.0,49.9 L87.6,52.0 L87.1,54.0 L86.8,56.0 L86.3,58.1 L86.1,60.1 L85.6,62.1 L85.3,64.1 L84.8,66.1 L84.8,68.0 L84.3,70.0 L84.0,71.8 L83.8,73.9 L83.0,75.8 L82.7,78.1 L82.1,79.8 L82.0,81.9 L81.3,84.0 L81.3,86.1 L81.2,88.0 L81.0,90.4 L80.5,92.2 L80.5,94.5 L80.2,96.4 L80.1,98.6 L79.9,100.9 L79.6,102.9 L79.6,104.9 L79.5,107.3 L79.1,109.1 L79.1,111.3 L78.8,113.5 L78.8,115.4 L78.4,117.4 L78.3,119.8 L78.3,121.8 L78.1,123.9 L77.7,125.8 L77.8,128.1 L77.4,130.0 L77.2,132.1 L76.9,134.1 L76.5,136.4 L76.0,138.4 L76.1,140.8 L75.8,142.9 L75.6,145.0 L75.4,146.8 L75.2,149.0 L75.0,151.1 L74.8,153.4 L74.6,155.2 L74.4,157.4 L74.4,159.4 L74.0,161.7 L73.8,163.7 L73.9,165.8 L73.5,167.9 L73.4,169.8 L73.1,171.9 L73.0,174.1 L72.8,176.1 L72.6,178.3 L72.7,180.4 L72.4,182.5 L72.0,184.7 L71.8,186.7 L71.6,188.7 L71.3,190.7 L71.0,192.9 L70.8,195.1 L70.4,197.1 L70.5,199.1 L70.1,201.3 L69.8,203.6 L69.5,205.6 L69.2,207.4 L69.2,209.6 L68.7,211.7 L68.6,213.9 L68.2,215.8 L68.3,218.1 L67.8,219.9 L67.8,222.1 L67.8,224.1 L67.7,226.0 L67.5,228.1 L67.4,230.0 L67.3,232.1 L67.2,233.9 L67.1,235.8 L66.9,238.0 L66.7,240.2 L66.6,242.0 L66.5,244.1 L66.3,246.0 L66.1,248.0 L66.1,249.9 L65.9,252.0 L66.1,253.9 L66.5,256.1 L66.6,258.0 L66.7,259.9 L66.9,262.0 L67.4,263.8 L67.8,265.9 L68.1,268.1 L68.3,270.0" stroke="#2f8a1c" stroke-width="4" fill="none" opacity="0.55" filter="url(#bl2)"/>
<path d="M89.4,35.8 L88.9,38.3 L88.4,39.6 L88.8,42.0 L89.0,44.2 L88.6,46.4 L88.5,48.0 L88.2,49.9 L87.6,52.1 L87.1,54.4 L87.0,56.0 L86.1,57.9 L85.9,60.0 L85.7,62.3 L85.7,64.0 L85.0,66.1 L85.1,67.9 L84.4,70.3 L83.7,71.9 L84.0,74.3 L83.2,75.7 L83.1,78.2 L82.6,80.4 L82.2,81.9 L81.2,83.8 L81.3,86.1 L80.9,87.9 L81.0,90.4 L80.6,92.8 L80.6,94.1 L80.2,96.8 L79.9,98.9 L79.5,100.6 L80.0,103.0 L79.6,104.8 L79.3,107.1 L79.0,109.3 L79.0,111.6 L78.9,113.3 L78.4,115.1 L78.7,117.2 L78.0,119.3 L78.2,121.9 L78.1,124.0 L77.5,125.4 L77.9,127.8 L77.7,129.9 L76.9,131.9 L76.5,134.6 L76.6,136.3 L76.2,138.4 L75.6,141.0 L75.7,143.2 L75.4,145.0 L75.1,146.6 L75.4,149.4 L74.8,151.5 L75.0,153.1 L74.7,155.7 L74.4,157.8 L74.1,159.4 L74.3,161.4 L73.8,164.0 L73.8,166.0 L73.4,167.6 L73.3,169.7 L73.6,171.9 L73.1,173.8 L73.0,176.1 L72.7,178.0 L72.3,180.7 L72.2,182.3 L71.9,184.4 L71.6,186.3 L71.7,188.6 L71.1,191.0 L70.8,192.7 L71.1,194.7 L70.6,197.4 L70.6,198.9 L70.0,201.5 L69.8,203.7 L69.4,205.8 L69.4,207.3 L69.1,209.3 L69.0,211.5 L68.9,213.9 L68.2,215.7 L68.2,217.8 L68.3,219.7 L67.9,222.0 L67.5,224.2 L67.5,226.1 L67.5,227.8 L67.2,229.7 L66.9,232.3 L66.9,234.1 L66.6,236.0 L66.7,238.0 L66.5,239.7 L66.4,241.8 L66.1,244.2 L66.1,245.9 L66.5,248.2 L66.3,250.3 L65.6,251.8 L65.7,254.1 L66.5,255.9 L66.5,258.1 L66.9,259.8 L67.3,261.9 L67.4,263.7 L67.3,266.3 L68.2,268.2 L68.3,270.0" stroke="#46b832" stroke-width="1.5" fill="none" opacity="0.95"/>
<circle cx="88.9" cy="45.6" r="0.62" fill="#5aec44" opacity="0.58"/><circle cx="78.4" cy="125.0" r="0.88" fill="#5aec44" opacity="0.51"/><circle cx="66.3" cy="232.0" r="0.65" fill="#5aec44" opacity="0.66"/><circle cx="70.7" cy="196.0" r="1.00" fill="#5aec44" opacity="0.87"/><circle cx="80.9" cy="103.0" r="0.86" fill="#5aec44" opacity="0.43"/><circle cx="81.5" cy="93.6" r="0.63" fill="#5aec44" opacity="0.95"/><circle cx="69.7" cy="211.7" r="0.74" fill="#5aec44" opacity="0.85"/><circle cx="67.3" cy="230.1" r="1.07" fill="#5aec44" opacity="0.65"/><circle cx="65.7" cy="252.8" r="1.00" fill="#5aec44" opacity="0.78"/><circle cx="76.6" cy="142.0" r="0.76" fill="#5aec44" opacity="0.71"/><circle cx="66.7" cy="254.0" r="0.53" fill="#5aec44" opacity="0.82"/><circle cx="67.6" cy="225.2" r="1.08" fill="#5aec44" opacity="0.78"/><circle cx="74.0" cy="163.3" r="0.71" fill="#5aec44" opacity="0.65"/><circle cx="81.6" cy="83.1" r="0.92" fill="#5aec44" opacity="0.80"/><circle cx="80.8" cy="92.0" r="0.77" fill="#5aec44" opacity="0.96"/><circle cx="78.1" cy="119.2" r="0.59" fill="#5aec44" opacity="0.74"/><circle cx="79.1" cy="113.1" r="0.96" fill="#5aec44" opacity="0.50"/><circle cx="70.7" cy="191.5" r="0.96" fill="#5aec44" opacity="0.90"/><circle cx="85.4" cy="63.2" r="0.62" fill="#5aec44" opacity="0.44"/><circle cx="80.1" cy="102.3" r="0.77" fill="#5aec44" opacity="0.47"/><circle cx="78.4" cy="111.8" r="0.60" fill="#5aec44" opacity="0.44"/><circle cx="89.9" cy="38.5" r="0.55" fill="#5aec44" opacity="0.83"/><circle cx="67.3" cy="265.3" r="0.79" fill="#5aec44" opacity="0.66"/><circle cx="82.2" cy="80.1" r="1.05" fill="#5aec44" opacity="0.79"/><circle cx="73.1" cy="182.4" r="0.65" fill="#5aec44" opacity="0.55"/><circle cx="85.6" cy="68.5" r="1.00" fill="#5aec44" opacity="0.58"/><circle cx="81.8" cy="78.3" r="1.06" fill="#5aec44" opacity="0.50"/><circle cx="68.5" cy="218.6" r="0.70" fill="#5aec44" opacity="0.51"/><circle cx="67.1" cy="229.6" r="0.83" fill="#5aec44" opacity="0.62"/><circle cx="67.3" cy="230.7" r="0.84" fill="#5aec44" opacity="0.78"/><circle cx="67.1" cy="226.5" r="1.07" fill="#5aec44" opacity="0.70"/><circle cx="75.1" cy="153.1" r="0.85" fill="#5aec44" opacity="0.45"/><circle cx="71.0" cy="197.4" r="1.08" fill="#5aec44" opacity="0.45"/><circle cx="88.2" cy="45.5" r="0.93" fill="#5aec44" opacity="0.40"/><circle cx="67.8" cy="231.9" r="0.76" fill="#5aec44" opacity="0.57"/><circle cx="70.7" cy="190.6" r="0.70" fill="#5aec44" opacity="0.66"/><circle cx="71.8" cy="190.6" r="0.60" fill="#5aec44" opacity="0.58"/><circle cx="75.6" cy="139.2" r="0.62" fill="#5aec44" opacity="0.45"/><circle cx="77.4" cy="111.9" r="1.05" fill="#5aec44" opacity="0.92"/><circle cx="68.1" cy="263.8" r="0.99" fill="#5aec44" opacity="0.44"/><circle cx="70.6" cy="193.8" r="0.84" fill="#5aec44" opacity="0.97"/><circle cx="74.9" cy="147.8" r="0.71" fill="#5aec44" opacity="0.93"/><circle cx="89.1" cy="43.4" r="0.77" fill="#5aec44" opacity="0.45"/><circle cx="70.9" cy="191.0" r="0.75" fill="#5aec44" opacity="0.72"/><circle cx="73.4" cy="168.2" r="0.61" fill="#5aec44" opacity="0.93"/><circle cx="74.8" cy="164.9" r="0.65" fill="#5aec44" opacity="0.46"/><circle cx="74.2" cy="160.7" r="0.83" fill="#5aec44" opacity="0.54"/><circle cx="74.0" cy="170.3" r="0.85" fill="#5aec44" opacity="0.45"/><circle cx="77.9" cy="131.6" r="1.02" fill="#5aec44" opacity="0.73"/><circle cx="69.9" cy="202.8" r="1.09" fill="#5aec44" opacity="0.83"/><circle cx="86.3" cy="59.3" r="0.60" fill="#5aec44" opacity="0.98"/><circle cx="73.7" cy="167.3" r="0.97" fill="#5aec44" opacity="0.43"/><circle cx="80.8" cy="91.2" r="0.86" fill="#5aec44" opacity="0.53"/><circle cx="79.3" cy="105.3" r="1.03" fill="#5aec44" opacity="0.77"/><circle cx="65.4" cy="239.5" r="1.02" fill="#5aec44" opacity="0.50"/><circle cx="68.5" cy="211.2" r="0.91" fill="#5aec44" opacity="0.90"/><circle cx="84.6" cy="65.3" r="1.07" fill="#5aec44" opacity="0.83"/><circle cx="88.4" cy="46.1" r="0.83" fill="#5aec44" opacity="0.88"/><circle cx="86.4" cy="61.9" r="0.65" fill="#5aec44" opacity="0.52"/><circle cx="76.4" cy="139.6" r="0.57" fill="#5aec44" opacity="0.41"/>
<path d="M83.6,72.3 L83.3,74.1 L83.0,76.2 L82.6,77.6 L82.7,80.0 L82.1,82.3 L81.9,83.5 L81.1,85.8 L81.1,88.6 L81.2,89.8 L80.4,92.7 L80.7,94.4 L80.3,96.3 L80.4,98.6 L80.3,100.9 L79.3,102.7 L79.2,105.4 L79.4,106.6 L78.8,109.0 L79.0,111.3 L78.7,113.2 L78.2,115.5 L78.3,117.0 L78.3,120.1 L77.7,121.3 L78.2,123.5 L77.6,125.8 L77.4,128.0 L77.5,130.0" stroke="#50e83a" stroke-width="2" fill="none"/>
<circle cx="62.4" cy="323.3" r="1.29" fill="#46c834" opacity="0.42"/><circle cx="64.0" cy="311.8" r="1.21" fill="#46c834" opacity="0.86"/><circle cx="67.7" cy="303.3" r="0.85" fill="#46c834" opacity="0.57"/><circle cx="51.2" cy="311.3" r="1.12" fill="#46c834" opacity="0.71"/><circle cx="67.8" cy="285.7" r="0.99" fill="#46c834" opacity="0.64"/><circle cx="39.0" cy="284.9" r="0.83" fill="#46c834" opacity="0.99"/><circle cx="60.1" cy="286.8" r="0.77" fill="#46c834" opacity="0.54"/><circle cx="53.5" cy="272.4" r="0.61" fill="#46c834" opacity="0.92"/><circle cx="58.7" cy="291.6" r="1.00" fill="#46c834" opacity="0.58"/><circle cx="44.4" cy="268.1" r="0.81" fill="#46c834" opacity="0.59"/><circle cx="72.3" cy="298.2" r="1.26" fill="#46c834" opacity="0.60"/><circle cx="82.1" cy="300.2" r="0.66" fill="#46c834" opacity="0.51"/><circle cx="53.8" cy="312.0" r="0.90" fill="#46c834" opacity="0.92"/><circle cx="39.4" cy="294.0" r="1.23" fill="#46c834" opacity="0.57"/><circle cx="48.9" cy="265.4" r="0.72" fill="#46c834" opacity="0.56"/><circle cx="71.2" cy="277.5" r="0.88" fill="#46c834" opacity="0.52"/><circle cx="66.1" cy="317.6" r="1.05" fill="#46c834" opacity="0.52"/><circle cx="66.1" cy="268.9" r="1.17" fill="#46c834" opacity="0.93"/><circle cx="53.1" cy="272.5" r="0.73" fill="#46c834" opacity="0.72"/><circle cx="79.8" cy="303.7" r="1.25" fill="#46c834" opacity="0.53"/><circle cx="52.3" cy="310.5" r="1.05" fill="#46c834" opacity="0.64"/><circle cx="69.9" cy="284.9" r="0.64" fill="#46c834" opacity="0.65"/><circle cx="52.7" cy="294.7" r="1.02" fill="#46c834" opacity="0.55"/><circle cx="82.3" cy="299.0" r="1.29" fill="#46c834" opacity="0.43"/><circle cx="66.7" cy="308.9" r="0.83" fill="#46c834" opacity="0.46"/><circle cx="43.8" cy="272.8" r="1.14" fill="#46c834" opacity="0.45"/><circle cx="76.7" cy="290.2" r="0.98" fill="#46c834" opacity="0.75"/><circle cx="63.7" cy="304.8" r="1.02" fill="#46c834" opacity="0.60"/><circle cx="73.1" cy="280.0" r="1.10" fill="#46c834" opacity="0.86"/><circle cx="74.8" cy="283.2" r="1.14" fill="#46c834" opacity="0.99"/><circle cx="58.7" cy="281.3" r="0.97" fill="#46c834" opacity="0.96"/><circle cx="42.6" cy="264.6" r="0.93" fill="#46c834" opacity="0.79"/><circle cx="74.7" cy="286.5" r="1.29" fill="#46c834" opacity="0.54"/><circle cx="37.4" cy="272.3" r="0.64" fill="#46c834" opacity="0.70"/><circle cx="63.8" cy="275.3" r="1.26" fill="#46c834" opacity="0.62"/><circle cx="43.5" cy="275.0" r="1.12" fill="#46c834" opacity="0.95"/><circle cx="44.1" cy="265.8" r="1.14" fill="#46c834" opacity="0.55"/><circle cx="67.8" cy="285.3" r="1.16" fill="#46c834" opacity="0.68"/><circle cx="52.2" cy="320.0" r="0.68" fill="#46c834" opacity="0.84"/><circle cx="39.3" cy="304.0" r="0.88" fill="#46c834" opacity="0.92"/><circle cx="39.0" cy="299.0" r="0.89" fill="#46c834" opacity="0.95"/><circle cx="47.2" cy="279.6" r="0.78" fill="#46c834" opacity="0.66"/><circle cx="47.6" cy="276.6" r="1.13" fill="#46c834" opacity="0.79"/><circle cx="46.8" cy="299.3" r="0.71" fill="#46c834" opacity="0.92"/><circle cx="79.5" cy="280.6" r="1.13" fill="#46c834" opacity="0.89"/><circle cx="50.1" cy="284.6" r="0.94" fill="#46c834" opacity="0.93"/><circle cx="44.1" cy="306.3" r="1.02" fill="#46c834" opacity="0.67"/><circle cx="65.0" cy="318.7" r="0.75" fill="#46c834" opacity="0.93"/><circle cx="54.0" cy="312.3" r="1.20" fill="#46c834" opacity="0.51"/><circle cx="50.9" cy="265.5" r="0.68" fill="#46c834" opacity="0.98"/>
<path d="M43.5,309.6 L45.4,310.7 L47.7,311.5" stroke="#3ec02e" stroke-width="1.2" fill="none" opacity="0.67"/><path d="M55.8,284.8 L56.6,282.2 L57.6,281.1 L58.8,279.7 L59.7,278.3" stroke="#3ec02e" stroke-width="1.2" fill="none" opacity="0.41"/><path d="M85.5,283.6 L88.3,284.6 L89.7,285.2" stroke="#3ec02e" stroke-width="1.2" fill="none" opacity="0.49"/><path d="M63.0,303.3 L60.4,302.3 L60.3,300.7" stroke="#3ec02e" stroke-width="1.2" fill="none" opacity="0.79"/><path d="M47.2,268.5 L46.0,267.4 L43.9,268.3" stroke="#3ec02e" stroke-width="1.2" fill="none" opacity="0.56"/><path d="M63.8,286.5 L64.9,284.6 L65.0,282.6 L64.4,279.7 L65.1,277.9" stroke="#3ec02e" stroke-width="1.2" fill="none" opacity="0.57"/><path d="M63.0,287.7 L62.2,290.3 L59.9,291.1 L58.6,292.9" stroke="#3ec02e" stroke-width="1.2" fill="none" opacity="0.80"/><path d="M70.7,309.3 L72.2,309.8 L73.5,310.7" stroke="#3ec02e" stroke-width="1.2" fill="none" opacity="0.69"/><path d="M56.3,298.6 L55.7,296.7 L56.8,295.7 L59.6,295.3" stroke="#3ec02e" stroke-width="1.2" fill="none" opacity="0.60"/><path d="M47.7,303.0 L47.1,301.6 L48.4,300.2 L50.9,299.0" stroke="#3ec02e" stroke-width="1.2" fill="none" opacity="0.43"/>
<path d="M40.4,266.2 L41.0,268.3 L40.7,270.4 L41.9,271.8 L42.1,274.1 L43.1,275.5 L43.3,277.8 L42.3,279.6 L42.2,282.2 L41.6,284.2 L41.3,286.5 L41.8,288.2 L41.5,289.8 L41.4,292.4 L42.1,293.9 L43.0,295.9 L43.2,298.2 L44.0,299.8 L44.2,301.7 L43.7,303.9 L43.5,306.2 L44.3,307.6 L44.0,309.4 L44.0,312.0" stroke="#3ac82a" stroke-width="2" fill="none"/>
<path d="M65.6,268.0 L67.4,269.7 L68.4,271.6 L69.3,272.9 L70.2,274.1 L72.1,275.8 L74.1,277.8 L75.7,278.2 L77.9,279.8 L80.0,280.5 L81.6,283.2 L83.7,284.7 L86.0,286.0" stroke="#40d02e" stroke-width="2.2" fill="none"/>
<path d="M47.5,295.3 L48.9,293.7 L51.3,294.1 L52.9,292.9 L54.7,291.7 L57.2,293.3 L58.6,296.1 L60.7,297.3 L61.5,298.6 L64.4,298.7 L65.9,299.4 L67.9,300.3 L70.2,300.3 L71.3,301.1 L74.0,302.2 L75.2,303.6 L77.0,304.0" stroke="#46d832" stroke-width="2.2" fill="none"/>
<path d="M55.6,309.5 L57.9,310.2 L60.3,310.7 L61.7,311.6 L64.0,313.8 L65.8,314.5 L67.9,316.0 L69.5,315.4 L72.1,313.4 L74.0,313.4 L76.0,312.0" stroke="#4ee036" stroke-width="2.6" fill="none"/>
</g>
<rect x="24" y="32.5" width="27.7" height="16.5" fill="#fff"/>
<text x="26.6" y="44.6" font-size="11.8" fill="#1f7f5c" stroke="#1f7f5c" stroke-width="0.25">Opn</text>
<path d="M79.6,60.8 L89.8,62.3 L87.5,75.7 L76.4,72.6 Z" stroke="#96ec84" stroke-width="1.3" fill="none"/>
</g>
<line x1="89.8" y1="62.3" x2="104" y2="34" stroke="#96ec84" stroke-width="1"/>
<line x1="87.5" y1="75.7" x2="104" y2="127" stroke="#96ec84" stroke-width="1"/>
<g id="insetG"><g clip-path="url(#cG)">
<rect x="104" y="34" width="73.5" height="93" fill="#4a3c12"/>
<g filter="url(#bl)">
<path d="M104,34 L125,34 L128,60 L130,90 L130,127 L104,127 Z" fill="#54441a"/>
<circle cx="119.6" cy="103.0" r="1.24" fill="#3e3010" opacity="0.77"/><circle cx="122.5" cy="119.8" r="0.62" fill="#3e3010" opacity="0.53"/><circle cx="115.7" cy="56.9" r="1.04" fill="#3e3010" opacity="0.59"/><circle cx="104.3" cy="54.2" r="0.82" fill="#3e3010" opacity="0.76"/><circle cx="123.1" cy="48.8" r="1.24" fill="#3e3010" opacity="0.37"/><circle cx="119.4" cy="45.8" r="0.60" fill="#3e3010" opacity="0.74"/><circle cx="109.2" cy="54.0" r="1.39" fill="#3e3010" opacity="0.74"/><circle cx="111.2" cy="123.4" r="1.03" fill="#3e3010" opacity="0.64"/><circle cx="109.1" cy="121.5" r="1.15" fill="#3e3010" opacity="0.78"/><circle cx="113.0" cy="49.4" r="0.72" fill="#3e3010" opacity="0.33"/><circle cx="111.5" cy="90.1" r="0.60" fill="#3e3010" opacity="0.64"/><circle cx="112.4" cy="62.8" r="1.25" fill="#3e3010" opacity="0.54"/><circle cx="111.9" cy="78.8" r="1.16" fill="#3e3010" opacity="0.33"/><circle cx="122.7" cy="112.6" r="0.61" fill="#3e3010" opacity="0.69"/><circle cx="113.2" cy="87.8" r="0.61" fill="#3e3010" opacity="0.32"/><circle cx="108.5" cy="122.8" r="0.76" fill="#3e3010" opacity="0.68"/><circle cx="127.2" cy="121.6" r="0.88" fill="#3e3010" opacity="0.48"/><circle cx="117.1" cy="106.1" r="0.69" fill="#3e3010" opacity="0.67"/><circle cx="123.9" cy="114.0" r="0.63" fill="#3e3010" opacity="0.77"/><circle cx="106.3" cy="65.7" r="1.09" fill="#3e3010" opacity="0.76"/><circle cx="112.5" cy="120.0" r="1.04" fill="#3e3010" opacity="0.46"/><circle cx="111.9" cy="50.5" r="0.66" fill="#3e3010" opacity="0.37"/><circle cx="121.2" cy="126.7" r="0.73" fill="#3e3010" opacity="0.32"/><circle cx="114.1" cy="56.1" r="1.08" fill="#3e3010" opacity="0.71"/><circle cx="115.4" cy="73.2" r="0.64" fill="#3e3010" opacity="0.76"/><circle cx="104.8" cy="79.9" r="1.27" fill="#3e3010" opacity="0.37"/><circle cx="122.3" cy="122.3" r="1.10" fill="#3e3010" opacity="0.69"/><circle cx="106.7" cy="74.4" r="0.72" fill="#3e3010" opacity="0.72"/><circle cx="111.4" cy="76.1" r="1.40" fill="#3e3010" opacity="0.73"/><circle cx="116.2" cy="101.8" r="0.98" fill="#3e3010" opacity="0.45"/><circle cx="114.1" cy="47.6" r="0.90" fill="#3e3010" opacity="0.79"/><circle cx="116.5" cy="65.5" r="0.67" fill="#3e3010" opacity="0.44"/><circle cx="123.6" cy="114.7" r="0.89" fill="#3e3010" opacity="0.69"/><circle cx="123.4" cy="98.6" r="1.13" fill="#3e3010" opacity="0.68"/><circle cx="113.1" cy="99.5" r="0.82" fill="#3e3010" opacity="0.54"/><circle cx="123.2" cy="98.3" r="0.84" fill="#3e3010" opacity="0.77"/><circle cx="120.2" cy="88.0" r="0.61" fill="#3e3010" opacity="0.57"/><circle cx="110.3" cy="96.5" r="0.97" fill="#3e3010" opacity="0.71"/><circle cx="120.2" cy="108.2" r="0.88" fill="#3e3010" opacity="0.62"/><circle cx="122.4" cy="111.0" r="0.88" fill="#3e3010" opacity="0.72"/><circle cx="125.7" cy="98.0" r="1.38" fill="#3e3010" opacity="0.78"/><circle cx="117.0" cy="83.2" r="0.73" fill="#3e3010" opacity="0.72"/><circle cx="121.3" cy="100.9" r="1.18" fill="#3e3010" opacity="0.39"/><circle cx="123.5" cy="88.0" r="1.13" fill="#3e3010" opacity="0.51"/><circle cx="119.6" cy="106.0" r="1.11" fill="#3e3010" opacity="0.66"/><circle cx="104.7" cy="48.9" r="0.95" fill="#3e3010" opacity="0.63"/><circle cx="109.5" cy="97.8" r="1.10" fill="#3e3010" opacity="0.32"/><circle cx="115.8" cy="55.0" r="0.64" fill="#3e3010" opacity="0.37"/><circle cx="111.9" cy="50.9" r="0.75" fill="#3e3010" opacity="0.32"/><circle cx="115.6" cy="69.4" r="1.09" fill="#3e3010" opacity="0.60"/><circle cx="109.9" cy="118.0" r="0.60" fill="#3e3010" opacity="0.50"/><circle cx="111.0" cy="72.1" r="0.69" fill="#3e3010" opacity="0.72"/><circle cx="113.3" cy="37.4" r="1.09" fill="#3e3010" opacity="0.35"/><circle cx="117.6" cy="65.6" r="1.06" fill="#3e3010" opacity="0.78"/><circle cx="124.5" cy="73.0" r="1.25" fill="#3e3010" opacity="0.62"/><circle cx="113.2" cy="47.2" r="1.08" fill="#3e3010" opacity="0.58"/><circle cx="127.9" cy="124.0" r="1.09" fill="#3e3010" opacity="0.48"/><circle cx="106.7" cy="86.6" r="1.09" fill="#3e3010" opacity="0.37"/><circle cx="119.7" cy="116.9" r="0.90" fill="#3e3010" opacity="0.52"/><circle cx="109.7" cy="61.1" r="1.38" fill="#3e3010" opacity="0.49"/>
<circle cx="175.6" cy="119.0" r="1.08" fill="#3a3412" opacity="0.43"/><circle cx="176.3" cy="80.2" r="0.93" fill="#3a3412" opacity="0.46"/><circle cx="176.4" cy="79.7" r="0.83" fill="#3a3412" opacity="0.54"/><circle cx="144.5" cy="91.8" r="0.95" fill="#3a3412" opacity="0.45"/><circle cx="168.9" cy="110.9" r="0.61" fill="#3a3412" opacity="0.57"/><circle cx="150.1" cy="121.0" r="1.23" fill="#3a3412" opacity="0.42"/><circle cx="149.9" cy="48.4" r="1.39" fill="#3a3412" opacity="0.45"/><circle cx="162.5" cy="78.1" r="1.12" fill="#3a3412" opacity="0.60"/><circle cx="167.5" cy="45.0" r="1.21" fill="#3a3412" opacity="0.45"/><circle cx="159.7" cy="65.3" r="0.84" fill="#3a3412" opacity="0.56"/><circle cx="157.2" cy="67.6" r="1.20" fill="#3a3412" opacity="0.60"/><circle cx="141.3" cy="57.5" r="0.96" fill="#3a3412" opacity="0.76"/><circle cx="172.9" cy="84.7" r="0.61" fill="#3a3412" opacity="0.69"/><circle cx="155.8" cy="87.5" r="1.17" fill="#3a3412" opacity="0.62"/><circle cx="157.8" cy="118.8" r="0.91" fill="#3a3412" opacity="0.50"/><circle cx="171.5" cy="52.3" r="0.84" fill="#3a3412" opacity="0.72"/><circle cx="142.4" cy="111.8" r="1.16" fill="#3a3412" opacity="0.52"/><circle cx="150.6" cy="106.6" r="1.33" fill="#3a3412" opacity="0.37"/><circle cx="157.7" cy="85.1" r="1.00" fill="#3a3412" opacity="0.47"/><circle cx="145.7" cy="88.5" r="1.25" fill="#3a3412" opacity="0.33"/><circle cx="148.5" cy="110.2" r="1.23" fill="#3a3412" opacity="0.63"/><circle cx="140.9" cy="101.2" r="1.38" fill="#3a3412" opacity="0.80"/><circle cx="165.9" cy="38.5" r="1.27" fill="#3a3412" opacity="0.41"/><circle cx="163.9" cy="122.6" r="1.17" fill="#3a3412" opacity="0.37"/><circle cx="150.8" cy="119.4" r="0.72" fill="#3a3412" opacity="0.61"/><circle cx="155.3" cy="49.0" r="1.10" fill="#3a3412" opacity="0.32"/><circle cx="144.0" cy="69.3" r="0.66" fill="#3a3412" opacity="0.33"/><circle cx="161.3" cy="103.0" r="1.30" fill="#3a3412" opacity="0.37"/><circle cx="156.0" cy="63.3" r="1.08" fill="#3a3412" opacity="0.54"/><circle cx="174.7" cy="68.8" r="0.64" fill="#3a3412" opacity="0.65"/><circle cx="145.6" cy="92.7" r="1.00" fill="#3a3412" opacity="0.76"/><circle cx="160.5" cy="91.7" r="0.81" fill="#3a3412" opacity="0.58"/><circle cx="149.4" cy="103.8" r="1.01" fill="#3a3412" opacity="0.37"/><circle cx="148.7" cy="68.5" r="1.19" fill="#3a3412" opacity="0.39"/><circle cx="166.4" cy="94.9" r="0.67" fill="#3a3412" opacity="0.63"/><circle cx="143.4" cy="45.6" r="1.08" fill="#3a3412" opacity="0.42"/><circle cx="172.4" cy="78.7" r="0.86" fill="#3a3412" opacity="0.70"/><circle cx="141.1" cy="101.4" r="0.64" fill="#3a3412" opacity="0.38"/><circle cx="175.2" cy="97.3" r="0.78" fill="#3a3412" opacity="0.36"/><circle cx="176.0" cy="95.9" r="1.26" fill="#3a3412" opacity="0.37"/><circle cx="163.1" cy="66.9" r="0.79" fill="#3a3412" opacity="0.47"/><circle cx="162.7" cy="66.4" r="0.91" fill="#3a3412" opacity="0.37"/><circle cx="170.8" cy="94.3" r="1.24" fill="#3a3412" opacity="0.52"/><circle cx="171.5" cy="82.1" r="1.07" fill="#3a3412" opacity="0.59"/><circle cx="167.4" cy="70.8" r="0.68" fill="#3a3412" opacity="0.32"/><circle cx="147.5" cy="37.7" r="1.31" fill="#3a3412" opacity="0.54"/><circle cx="168.1" cy="34.0" r="0.98" fill="#3a3412" opacity="0.74"/><circle cx="162.9" cy="73.9" r="0.97" fill="#3a3412" opacity="0.35"/><circle cx="145.7" cy="48.8" r="0.90" fill="#3a3412" opacity="0.49"/><circle cx="172.6" cy="48.1" r="0.80" fill="#3a3412" opacity="0.44"/><circle cx="146.0" cy="60.7" r="0.79" fill="#3a3412" opacity="0.54"/><circle cx="141.2" cy="120.0" r="0.90" fill="#3a3412" opacity="0.77"/><circle cx="165.4" cy="96.7" r="0.98" fill="#3a3412" opacity="0.77"/><circle cx="144.4" cy="96.2" r="0.83" fill="#3a3412" opacity="0.64"/><circle cx="167.0" cy="49.2" r="0.76" fill="#3a3412" opacity="0.31"/><circle cx="148.5" cy="41.3" r="0.92" fill="#3a3412" opacity="0.79"/><circle cx="153.5" cy="63.0" r="0.97" fill="#3a3412" opacity="0.44"/><circle cx="167.1" cy="100.8" r="0.73" fill="#3a3412" opacity="0.42"/><circle cx="164.9" cy="121.5" r="1.12" fill="#3a3412" opacity="0.52"/><circle cx="176.1" cy="34.6" r="0.65" fill="#3a3412" opacity="0.69"/><circle cx="155.2" cy="38.2" r="1.04" fill="#3a3412" opacity="0.79"/><circle cx="159.2" cy="66.6" r="0.68" fill="#3a3412" opacity="0.34"/><circle cx="173.3" cy="79.7" r="1.35" fill="#3a3412" opacity="0.33"/><circle cx="149.0" cy="38.7" r="0.92" fill="#3a3412" opacity="0.33"/><circle cx="149.5" cy="71.9" r="0.84" fill="#3a3412" opacity="0.33"/><circle cx="141.4" cy="124.4" r="0.74" fill="#3a3412" opacity="0.55"/><circle cx="154.9" cy="83.4" r="0.67" fill="#3a3412" opacity="0.46"/><circle cx="144.0" cy="84.4" r="1.34" fill="#3a3412" opacity="0.60"/><circle cx="171.7" cy="53.9" r="0.61" fill="#3a3412" opacity="0.57"/><circle cx="158.0" cy="87.1" r="0.90" fill="#3a3412" opacity="0.61"/>
<circle cx="166.8" cy="118.9" r="0.65" fill="#5a6a22" opacity="0.48"/><circle cx="170.6" cy="54.8" r="0.56" fill="#5a6a22" opacity="0.42"/><circle cx="143.2" cy="105.8" r="0.91" fill="#5a6a22" opacity="0.43"/><circle cx="144.8" cy="41.6" r="0.62" fill="#5a6a22" opacity="0.33"/><circle cx="155.9" cy="87.7" r="0.62" fill="#5a6a22" opacity="0.32"/><circle cx="165.9" cy="38.5" r="0.60" fill="#5a6a22" opacity="0.41"/><circle cx="153.8" cy="43.2" r="0.71" fill="#5a6a22" opacity="0.43"/><circle cx="167.8" cy="85.7" r="0.95" fill="#5a6a22" opacity="0.56"/><circle cx="168.1" cy="87.4" r="0.72" fill="#5a6a22" opacity="0.63"/><circle cx="164.3" cy="122.8" r="0.86" fill="#5a6a22" opacity="0.58"/><circle cx="149.9" cy="109.5" r="0.69" fill="#5a6a22" opacity="0.35"/><circle cx="142.4" cy="49.8" r="0.63" fill="#5a6a22" opacity="0.57"/><circle cx="150.6" cy="39.9" r="0.88" fill="#5a6a22" opacity="0.52"/><circle cx="141.0" cy="38.7" r="0.57" fill="#5a6a22" opacity="0.44"/><circle cx="171.8" cy="122.3" r="0.81" fill="#5a6a22" opacity="0.39"/><circle cx="155.9" cy="67.7" r="0.67" fill="#5a6a22" opacity="0.30"/><circle cx="161.6" cy="110.9" r="0.86" fill="#5a6a22" opacity="0.34"/><circle cx="159.6" cy="49.9" r="0.85" fill="#5a6a22" opacity="0.48"/><circle cx="174.7" cy="107.9" r="0.56" fill="#5a6a22" opacity="0.43"/><circle cx="173.9" cy="76.9" r="0.72" fill="#5a6a22" opacity="0.48"/><circle cx="168.4" cy="121.1" r="0.77" fill="#5a6a22" opacity="0.69"/><circle cx="162.1" cy="43.6" r="0.91" fill="#5a6a22" opacity="0.47"/><circle cx="141.9" cy="125.0" r="0.52" fill="#5a6a22" opacity="0.53"/><circle cx="157.8" cy="116.0" r="0.70" fill="#5a6a22" opacity="0.39"/><circle cx="150.3" cy="52.7" r="0.78" fill="#5a6a22" opacity="0.44"/><circle cx="167.8" cy="56.5" r="0.68" fill="#5a6a22" opacity="0.40"/><circle cx="176.3" cy="112.1" r="0.92" fill="#5a6a22" opacity="0.55"/><circle cx="154.8" cy="47.3" r="0.92" fill="#5a6a22" opacity="0.50"/><circle cx="141.4" cy="49.8" r="0.55" fill="#5a6a22" opacity="0.59"/><circle cx="173.3" cy="52.5" r="0.90" fill="#5a6a22" opacity="0.43"/>
<path d="M124.4,34 L138.5,34 L140,45 L142.6,57 L139,66 L137.5,80 L139.8,100 L139.5,127 L130.8,127 L130.2,100 L129.5,80 L128.1,57 L126,45 Z" fill="#3cb822"/>
<path d="M136.8,114.3 L135.5,113.6 L132.9,112.1" stroke="#64f044" stroke-width="1.6" fill="none" opacity="0.67"/><path d="M131.5,63.5 L134.2,64.1 L137.2,65.0 L140.7,65.7" stroke="#64f044" stroke-width="1.6" fill="none" opacity="0.83"/><path d="M132.0,123.1 L133.8,121.9 L133.4,118.5 L133.8,114.9 L136.2,113.9" stroke="#64f044" stroke-width="1.6" fill="none" opacity="0.99"/><path d="M128.7,37.5 L128.9,40.7 L126.6,43.2 L124.9,44.2" stroke="#64f044" stroke-width="1.6" fill="none" opacity="0.81"/><path d="M140.7,56.2 L144.4,54.9 L146.8,55.1 L149.1,56.8 L152.2,56.7" stroke="#64f044" stroke-width="1.6" fill="none" opacity="0.73"/><path d="M142.3,57.2 L144.4,57.5 L147.8,59.2 L150.7,58.1" stroke="#64f044" stroke-width="1.6" fill="none" opacity="0.91"/><path d="M128.5,39.8 L127.7,36.6 L126.6,34.3 L125.2,30.8 L123.5,29.4" stroke="#64f044" stroke-width="1.6" fill="none" opacity="0.84"/><path d="M134.6,90.1 L135.9,91.3 L136.3,93.6" stroke="#64f044" stroke-width="1.6" fill="none" opacity="0.63"/><path d="M133.9,40.8 L134.0,44.6 L136.0,47.1 L135.7,49.8" stroke="#64f044" stroke-width="1.6" fill="none" opacity="0.64"/><path d="M127.9,48.6 L131.2,49.5 L133.6,50.6" stroke="#64f044" stroke-width="1.6" fill="none" opacity="0.73"/><path d="M138.4,51.0 L141.2,52.3 L141.2,54.1 L142.6,55.0 L145.0,54.7" stroke="#64f044" stroke-width="1.6" fill="none" opacity="0.78"/><path d="M136.8,103.1 L136.7,105.8 L140.4,107.3 L140.5,109.1" stroke="#64f044" stroke-width="1.6" fill="none" opacity="0.60"/><path d="M131.3,65.9 L133.1,63.1 L133.3,61.3 L133.4,58.9" stroke="#64f044" stroke-width="1.6" fill="none" opacity="0.89"/><path d="M129.7,80.4 L129.3,78.2 L127.5,75.1" stroke="#64f044" stroke-width="1.6" fill="none" opacity="0.81"/><path d="M131.4,120.9 L133.1,120.3 L134.7,121.1 L135.3,122.6" stroke="#64f044" stroke-width="1.6" fill="none" opacity="0.82"/><path d="M136.4,91.5 L133.6,93.4 L131.0,96.1" stroke="#64f044" stroke-width="1.6" fill="none" opacity="0.93"/><path d="M132.7,40.9 L130.8,40.5 L128.8,43.5 L125.8,43.1" stroke="#64f044" stroke-width="1.6" fill="none" opacity="0.65"/><path d="M131.2,106.1 L130.0,109.6 L129.0,111.6 L130.1,113.8 L133.1,116.0" stroke="#64f044" stroke-width="1.6" fill="none" opacity="0.82"/><path d="M132.5,115.0 L134.5,113.0 L136.3,112.5" stroke="#64f044" stroke-width="1.6" fill="none" opacity="0.79"/><path d="M137.2,34.8 L135.6,31.9 L133.6,30.9 L132.7,29.0" stroke="#64f044" stroke-width="1.6" fill="none" opacity="0.88"/><path d="M134.6,74.9 L134.3,77.3 L133.8,80.5" stroke="#64f044" stroke-width="1.6" fill="none" opacity="0.97"/><path d="M129.9,49.5 L131.5,49.4 L133.7,47.2" stroke="#64f044" stroke-width="1.6" fill="none" opacity="0.64"/><path d="M133.7,110.0 L134.0,112.4 L134.3,115.3 L136.2,117.1" stroke="#64f044" stroke-width="1.6" fill="none" opacity="0.62"/><path d="M129.2,59.6 L127.8,58.0 L125.8,58.5 L124.1,61.6 L121.6,63.2" stroke="#64f044" stroke-width="1.6" fill="none" opacity="0.95"/><path d="M135.2,86.6 L136.6,85.9 L136.6,82.4 L136.5,78.7" stroke="#64f044" stroke-width="1.6" fill="none" opacity="0.62"/><path d="M135.1,44.9 L134.2,42.1 L133.5,39.0 L134.3,35.8 L135.1,34.4" stroke="#64f044" stroke-width="1.6" fill="none" opacity="0.89"/><path d="M129.9,82.8 L129.2,79.7 L127.5,77.8" stroke="#64f044" stroke-width="1.6" fill="none" opacity="0.72"/><path d="M132.7,61.8 L135.5,59.3 L136.8,58.0 L137.0,55.8" stroke="#64f044" stroke-width="1.6" fill="none" opacity="0.98"/><path d="M128.1,42.2 L126.0,43.6 L123.9,44.9" stroke="#64f044" stroke-width="1.6" fill="none" opacity="0.68"/><path d="M133.5,121.0 L134.1,123.1 L134.9,125.8" stroke="#64f044" stroke-width="1.6" fill="none" opacity="0.96"/>
<circle cx="134.5" cy="95.6" r="0.99" fill="#2a8a18" opacity="0.81"/><circle cx="139.6" cy="61.3" r="0.78" fill="#2a8a18" opacity="0.60"/><circle cx="130.9" cy="116.7" r="0.89" fill="#2a8a18" opacity="0.75"/><circle cx="136.1" cy="122.9" r="0.78" fill="#2a8a18" opacity="0.81"/><circle cx="130.5" cy="43.6" r="1.14" fill="#2a8a18" opacity="0.84"/><circle cx="135.0" cy="38.6" r="1.38" fill="#2a8a18" opacity="0.65"/><circle cx="136.0" cy="101.3" r="0.88" fill="#2a8a18" opacity="0.66"/><circle cx="130.4" cy="42.9" r="0.75" fill="#2a8a18" opacity="0.79"/><circle cx="131.9" cy="114.9" r="0.74" fill="#2a8a18" opacity="0.62"/><circle cx="138.8" cy="117.4" r="1.05" fill="#2a8a18" opacity="0.54"/><circle cx="132.0" cy="55.0" r="0.72" fill="#2a8a18" opacity="0.73"/><circle cx="129.7" cy="44.0" r="1.06" fill="#2a8a18" opacity="0.87"/><circle cx="134.3" cy="74.7" r="0.89" fill="#2a8a18" opacity="0.72"/><circle cx="135.9" cy="119.4" r="0.93" fill="#2a8a18" opacity="0.82"/>
<path d="M125.0,35.6 L124.8,38.5 L125.5,39.9 L126.4,42.1 L126.1,43.7 L126.7,45.7 L126.7,48.3 L127.1,49.6 L127.0,52.2 L127.9,53.5 L128.6,55.6 L127.9,57.5 L128.6,60.1 L129.4,61.6 L129.4,63.5 L129.3,65.7 L129.2,67.5 L129.8,69.5 L129.9,71.8 L129.9,74.2 L129.9,76.4 L130.5,77.7 L129.9,80.6 L129.8,82.2 L130.3,84.9 L130.1,86.7 L130.9,88.9 L130.2,91.3 L130.6,93.3 L131.2,94.9 L131.5,97.4 L131.0,99.6 L131.2,101.7 L131.4,103.9 L130.9,105.7 L130.8,108.2 L131.8,110.4 L131.0,112.0 L131.6,113.5 L131.3,116.6 L132.2,117.7 L132.2,120.2 L131.7,122.2 L131.6,123.7 L132.0,126.0" stroke="#58ea3a" stroke-width="1.6" fill="none"/>
<path d="M136.4,36.2 L137.2,38.3 L137.3,39.9 L137.2,42.3 L137.4,44.1 L138.0,45.9 L138.1,47.5 L137.7,50.4 L138.3,51.5 L138.9,54.3 L139.8,55.9 L140.9,58.4 L140.4,60.0 L139.2,62.4 L139.5,64.1 L139.0,66.1 L138.3,68.4 L138.0,69.4 L138.1,72.6 L137.1,73.5 L137.1,75.5 L137.0,77.5 L136.7,79.4 L137.1,81.8 L137.6,83.9 L137.0,86.5 L138.1,88.2 L137.4,89.9 L137.8,91.9 L137.5,93.9 L138.5,96.2 L138.8,98.2 L138.8,100.4 L139.0,102.4 L138.3,104.2 L138.6,106.5 L138.6,107.9 L137.9,109.8 L138.0,112.2 L138.6,113.6 L138.2,116.4 L138.0,117.5 L138.2,119.8 L137.6,121.7 L137.4,123.6 L138.0,126.0" stroke="#5cee3e" stroke-width="1.6" fill="none"/>
<path d="M141,57 C146,60 148,56 146,52" stroke="#50d034" stroke-width="1.2" fill="none"/>
<path d="M167,36 C170,40 166,44 170,47 C173,50 176,46 177,43" stroke="#4ad832" stroke-width="1.8" fill="none"/>
<path d="M174,51 C169,52 168,58 171,61 C174,64 177,61 176,57" stroke="#52e038" stroke-width="1.7" fill="none"/>
<path d="M177,68 C172,70 170,74 167,78 C166,80 169,82 172,80 C174,78 176,80 177,84" stroke="#4ad832" stroke-width="2" fill="none"/>
<path d="M162,48 C168,60 172,75 172,88 C171,95 166,100 162,102" stroke="#56702a" stroke-width="1.1" fill="none"/>
<path d="M141,45 C145,48 149,52 152,55" stroke="#5a7a2a" stroke-width="1" fill="none"/>
<path d="M154.5,126 C155,118 158,112 162,110 C165,107 169,106 172,108 C175,110 176,113 177,115" stroke="#4cd432" stroke-width="1.9" fill="none"/>
<path d="M159,126 C160,120 163,116 167,115" stroke="#3cb028" stroke-width="1.3" fill="none"/>
<path d="M175,90 C172,94 173,100 177,102" stroke="#48c830" stroke-width="1.5" fill="none"/>
<path d="M107,60 C108,54 112,54 113,60" stroke="#2a1e08" stroke-width="1.6" fill="none"/>
</g></g>
<rect x="105" y="35" width="71.6" height="91" fill="none" stroke="#80ee68" stroke-width="2.2"/></g>
<g id="insetR"><g clip-path="url(#cR)">
<rect x="104" y="233" width="73" height="94" fill="#373a17"/>
<g filter="url(#bl)">
<path d="M104,233 L124,233 L128,280 L130,327 L104,327 Z" fill="#52341a"/>
<circle cx="115.1" cy="242.9" r="0.60" fill="#c04a1e" opacity="0.57"/><circle cx="128.9" cy="311.4" r="0.83" fill="#c04a1e" opacity="0.76"/><circle cx="106.1" cy="247.1" r="0.60" fill="#c04a1e" opacity="0.33"/><circle cx="119.6" cy="304.2" r="0.93" fill="#c04a1e" opacity="0.70"/><circle cx="115.7" cy="319.4" r="1.03" fill="#c04a1e" opacity="0.57"/><circle cx="108.4" cy="273.1" r="0.91" fill="#c04a1e" opacity="0.71"/><circle cx="110.0" cy="260.7" r="1.17" fill="#c04a1e" opacity="0.34"/><circle cx="118.0" cy="253.6" r="1.07" fill="#c04a1e" opacity="0.60"/><circle cx="106.5" cy="301.6" r="0.89" fill="#c04a1e" opacity="0.46"/><circle cx="126.3" cy="306.2" r="0.82" fill="#c04a1e" opacity="0.64"/><circle cx="107.2" cy="281.8" r="0.66" fill="#c04a1e" opacity="0.62"/><circle cx="127.8" cy="292.8" r="0.63" fill="#c04a1e" opacity="0.56"/><circle cx="116.2" cy="274.6" r="0.71" fill="#c04a1e" opacity="0.44"/><circle cx="115.7" cy="239.7" r="1.07" fill="#c04a1e" opacity="0.42"/><circle cx="111.5" cy="241.5" r="0.81" fill="#c04a1e" opacity="0.77"/><circle cx="111.6" cy="242.0" r="0.84" fill="#c04a1e" opacity="0.77"/><circle cx="106.3" cy="265.2" r="0.75" fill="#c04a1e" opacity="0.64"/><circle cx="116.0" cy="242.2" r="1.20" fill="#c04a1e" opacity="0.46"/><circle cx="121.8" cy="275.6" r="1.21" fill="#c04a1e" opacity="0.33"/><circle cx="109.9" cy="259.8" r="0.79" fill="#c04a1e" opacity="0.71"/><circle cx="117.1" cy="265.6" r="0.95" fill="#c04a1e" opacity="0.72"/><circle cx="118.8" cy="275.4" r="1.06" fill="#c04a1e" opacity="0.61"/><circle cx="114.5" cy="273.1" r="0.69" fill="#c04a1e" opacity="0.52"/><circle cx="113.5" cy="289.7" r="1.01" fill="#c04a1e" opacity="0.39"/><circle cx="115.6" cy="302.0" r="0.63" fill="#c04a1e" opacity="0.35"/><circle cx="123.6" cy="318.1" r="0.65" fill="#c04a1e" opacity="0.34"/><circle cx="120.3" cy="259.7" r="1.06" fill="#c04a1e" opacity="0.32"/><circle cx="115.9" cy="248.2" r="0.83" fill="#c04a1e" opacity="0.65"/><circle cx="117.3" cy="313.2" r="1.19" fill="#c04a1e" opacity="0.61"/><circle cx="116.3" cy="263.0" r="1.04" fill="#c04a1e" opacity="0.36"/><circle cx="124.4" cy="321.6" r="1.26" fill="#c04a1e" opacity="0.50"/><circle cx="126.3" cy="326.7" r="0.69" fill="#c04a1e" opacity="0.67"/><circle cx="122.9" cy="276.0" r="0.79" fill="#c04a1e" opacity="0.39"/><circle cx="114.7" cy="320.6" r="0.88" fill="#c04a1e" opacity="0.43"/><circle cx="120.1" cy="274.1" r="1.03" fill="#c04a1e" opacity="0.53"/><circle cx="111.4" cy="236.3" r="1.17" fill="#c04a1e" opacity="0.63"/><circle cx="110.3" cy="279.9" r="1.01" fill="#c04a1e" opacity="0.55"/><circle cx="127.4" cy="306.2" r="0.81" fill="#c04a1e" opacity="0.47"/><circle cx="119.9" cy="248.3" r="1.25" fill="#c04a1e" opacity="0.32"/><circle cx="117.0" cy="258.7" r="0.97" fill="#c04a1e" opacity="0.32"/><circle cx="109.8" cy="326.0" r="1.15" fill="#c04a1e" opacity="0.41"/><circle cx="115.9" cy="236.1" r="0.69" fill="#c04a1e" opacity="0.40"/><circle cx="110.4" cy="239.1" r="0.68" fill="#c04a1e" opacity="0.80"/><circle cx="123.2" cy="319.5" r="1.18" fill="#c04a1e" opacity="0.69"/><circle cx="110.6" cy="248.9" r="0.79" fill="#c04a1e" opacity="0.33"/><circle cx="108.6" cy="300.7" r="0.94" fill="#c04a1e" opacity="0.31"/><circle cx="111.9" cy="312.9" r="1.20" fill="#c04a1e" opacity="0.66"/><circle cx="123.0" cy="318.7" r="0.99" fill="#c04a1e" opacity="0.49"/><circle cx="118.9" cy="259.5" r="0.63" fill="#c04a1e" opacity="0.43"/><circle cx="115.9" cy="244.3" r="0.66" fill="#c04a1e" opacity="0.42"/>
<circle cx="147.3" cy="323.0" r="0.79" fill="#c8582a" opacity="0.80"/><circle cx="165.0" cy="288.7" r="0.69" fill="#c8582a" opacity="0.54"/><circle cx="144.9" cy="292.6" r="1.01" fill="#c8582a" opacity="0.77"/><circle cx="143.9" cy="247.1" r="0.51" fill="#c8582a" opacity="0.65"/><circle cx="140.7" cy="233.5" r="0.68" fill="#c8582a" opacity="0.44"/><circle cx="139.6" cy="295.5" r="0.85" fill="#c8582a" opacity="0.47"/><circle cx="164.3" cy="252.4" r="1.05" fill="#c8582a" opacity="0.37"/><circle cx="157.8" cy="299.3" r="0.94" fill="#c8582a" opacity="0.59"/><circle cx="171.0" cy="292.1" r="0.91" fill="#c8582a" opacity="0.35"/><circle cx="138.8" cy="276.8" r="0.83" fill="#c8582a" opacity="0.36"/><circle cx="164.9" cy="265.6" r="0.79" fill="#c8582a" opacity="0.61"/><circle cx="169.4" cy="261.4" r="0.84" fill="#c8582a" opacity="0.66"/><circle cx="160.8" cy="262.3" r="0.67" fill="#c8582a" opacity="0.58"/><circle cx="158.2" cy="293.6" r="0.58" fill="#c8582a" opacity="0.57"/><circle cx="156.3" cy="251.3" r="0.56" fill="#c8582a" opacity="0.86"/><circle cx="131.0" cy="279.9" r="0.68" fill="#c8582a" opacity="0.32"/><circle cx="142.7" cy="248.2" r="0.74" fill="#c8582a" opacity="0.85"/><circle cx="133.7" cy="266.1" r="0.92" fill="#c8582a" opacity="0.67"/><circle cx="131.0" cy="254.5" r="0.67" fill="#c8582a" opacity="0.84"/><circle cx="150.8" cy="257.2" r="0.79" fill="#c8582a" opacity="0.59"/><circle cx="137.0" cy="295.7" r="0.93" fill="#c8582a" opacity="0.59"/><circle cx="155.3" cy="305.4" r="1.07" fill="#c8582a" opacity="0.67"/><circle cx="132.1" cy="280.5" r="0.90" fill="#c8582a" opacity="0.50"/><circle cx="162.2" cy="267.6" r="0.87" fill="#c8582a" opacity="0.67"/><circle cx="161.5" cy="320.0" r="0.92" fill="#c8582a" opacity="0.73"/><circle cx="163.1" cy="254.7" r="0.87" fill="#c8582a" opacity="0.67"/><circle cx="132.9" cy="303.9" r="0.64" fill="#c8582a" opacity="0.60"/><circle cx="154.6" cy="300.9" r="0.96" fill="#c8582a" opacity="0.58"/><circle cx="174.2" cy="274.6" r="0.84" fill="#c8582a" opacity="0.89"/><circle cx="145.2" cy="300.1" r="1.07" fill="#c8582a" opacity="0.35"/><circle cx="166.5" cy="294.3" r="0.82" fill="#c8582a" opacity="0.77"/><circle cx="170.4" cy="246.8" r="0.79" fill="#c8582a" opacity="0.67"/><circle cx="162.8" cy="323.1" r="0.98" fill="#c8582a" opacity="0.80"/><circle cx="133.0" cy="273.1" r="1.05" fill="#c8582a" opacity="0.87"/><circle cx="165.5" cy="264.4" r="0.96" fill="#c8582a" opacity="0.62"/><circle cx="161.4" cy="292.9" r="1.02" fill="#c8582a" opacity="0.73"/><circle cx="175.6" cy="279.4" r="0.80" fill="#c8582a" opacity="0.69"/><circle cx="156.4" cy="237.6" r="1.08" fill="#c8582a" opacity="0.49"/><circle cx="153.5" cy="237.0" r="0.61" fill="#c8582a" opacity="0.86"/><circle cx="143.0" cy="261.1" r="0.99" fill="#c8582a" opacity="0.44"/><circle cx="161.4" cy="286.4" r="1.04" fill="#c8582a" opacity="0.59"/><circle cx="145.4" cy="257.4" r="0.72" fill="#c8582a" opacity="0.30"/><circle cx="135.6" cy="247.0" r="0.69" fill="#c8582a" opacity="0.76"/><circle cx="174.3" cy="266.3" r="0.65" fill="#c8582a" opacity="0.48"/><circle cx="159.6" cy="278.0" r="0.57" fill="#c8582a" opacity="0.61"/><circle cx="142.6" cy="246.5" r="0.97" fill="#c8582a" opacity="0.36"/><circle cx="150.6" cy="305.0" r="0.83" fill="#c8582a" opacity="0.82"/><circle cx="144.9" cy="322.0" r="0.53" fill="#c8582a" opacity="0.84"/><circle cx="149.9" cy="233.3" r="0.66" fill="#c8582a" opacity="0.89"/><circle cx="163.7" cy="302.3" r="0.99" fill="#c8582a" opacity="0.30"/><circle cx="144.4" cy="276.8" r="1.05" fill="#c8582a" opacity="0.84"/><circle cx="137.0" cy="325.8" r="0.83" fill="#c8582a" opacity="0.48"/><circle cx="133.9" cy="273.1" r="0.81" fill="#c8582a" opacity="0.57"/><circle cx="144.6" cy="322.1" r="0.79" fill="#c8582a" opacity="0.48"/><circle cx="166.5" cy="256.0" r="0.75" fill="#c8582a" opacity="0.36"/><circle cx="141.2" cy="326.7" r="0.87" fill="#c8582a" opacity="0.61"/><circle cx="161.6" cy="296.2" r="0.81" fill="#c8582a" opacity="0.52"/><circle cx="136.9" cy="235.8" r="0.57" fill="#c8582a" opacity="0.54"/><circle cx="130.5" cy="296.4" r="0.70" fill="#c8582a" opacity="0.44"/><circle cx="144.7" cy="279.3" r="0.63" fill="#c8582a" opacity="0.81"/><circle cx="152.7" cy="239.5" r="0.55" fill="#c8582a" opacity="0.83"/><circle cx="157.2" cy="260.4" r="0.93" fill="#c8582a" opacity="0.33"/><circle cx="171.8" cy="321.0" r="0.90" fill="#c8582a" opacity="0.33"/><circle cx="150.0" cy="311.7" r="0.86" fill="#c8582a" opacity="0.43"/><circle cx="141.0" cy="239.0" r="0.81" fill="#c8582a" opacity="0.41"/><circle cx="150.9" cy="317.2" r="1.04" fill="#c8582a" opacity="0.60"/><circle cx="166.8" cy="245.6" r="1.07" fill="#c8582a" opacity="0.82"/><circle cx="152.7" cy="316.3" r="0.68" fill="#c8582a" opacity="0.89"/><circle cx="145.2" cy="319.9" r="1.00" fill="#c8582a" opacity="0.86"/><circle cx="164.2" cy="239.9" r="0.67" fill="#c8582a" opacity="0.69"/><circle cx="172.7" cy="297.0" r="0.52" fill="#c8582a" opacity="0.51"/><circle cx="146.2" cy="249.1" r="0.64" fill="#c8582a" opacity="0.61"/><circle cx="147.5" cy="258.1" r="0.75" fill="#c8582a" opacity="0.87"/><circle cx="158.0" cy="303.7" r="1.06" fill="#c8582a" opacity="0.32"/><circle cx="171.4" cy="241.9" r="0.62" fill="#c8582a" opacity="0.74"/><circle cx="165.4" cy="290.8" r="0.79" fill="#c8582a" opacity="0.73"/><circle cx="150.1" cy="251.3" r="0.63" fill="#c8582a" opacity="0.37"/><circle cx="131.7" cy="322.5" r="1.07" fill="#c8582a" opacity="0.51"/><circle cx="149.4" cy="259.2" r="0.97" fill="#c8582a" opacity="0.60"/><circle cx="138.0" cy="316.1" r="1.06" fill="#c8582a" opacity="0.33"/><circle cx="151.6" cy="253.8" r="0.88" fill="#c8582a" opacity="0.52"/><circle cx="144.0" cy="261.4" r="0.86" fill="#c8582a" opacity="0.60"/><circle cx="152.9" cy="297.0" r="0.78" fill="#c8582a" opacity="0.87"/><circle cx="150.6" cy="307.4" r="1.06" fill="#c8582a" opacity="0.67"/><circle cx="157.7" cy="307.2" r="0.93" fill="#c8582a" opacity="0.42"/><circle cx="149.6" cy="247.7" r="0.51" fill="#c8582a" opacity="0.71"/><circle cx="145.5" cy="256.9" r="0.52" fill="#c8582a" opacity="0.31"/><circle cx="161.6" cy="266.6" r="0.76" fill="#c8582a" opacity="0.71"/><circle cx="172.7" cy="298.9" r="0.63" fill="#c8582a" opacity="0.89"/><circle cx="138.6" cy="287.6" r="0.89" fill="#c8582a" opacity="0.47"/><circle cx="171.8" cy="290.3" r="0.93" fill="#c8582a" opacity="0.38"/><circle cx="169.1" cy="260.0" r="0.87" fill="#c8582a" opacity="0.74"/><circle cx="145.1" cy="257.9" r="0.70" fill="#c8582a" opacity="0.89"/><circle cx="160.9" cy="277.3" r="0.84" fill="#c8582a" opacity="0.69"/><circle cx="142.3" cy="240.1" r="0.57" fill="#c8582a" opacity="0.65"/><circle cx="158.1" cy="324.9" r="0.87" fill="#c8582a" opacity="0.81"/><circle cx="176.4" cy="279.7" r="0.75" fill="#c8582a" opacity="0.58"/><circle cx="147.5" cy="304.5" r="0.85" fill="#c8582a" opacity="0.37"/><circle cx="174.9" cy="282.5" r="0.95" fill="#c8582a" opacity="0.63"/><circle cx="157.7" cy="287.2" r="0.57" fill="#c8582a" opacity="0.38"/><circle cx="164.4" cy="265.9" r="0.58" fill="#c8582a" opacity="0.79"/><circle cx="165.2" cy="304.8" r="0.73" fill="#c8582a" opacity="0.38"/><circle cx="165.7" cy="253.3" r="0.90" fill="#c8582a" opacity="0.72"/><circle cx="142.8" cy="233.2" r="0.85" fill="#c8582a" opacity="0.77"/><circle cx="157.7" cy="325.5" r="0.64" fill="#c8582a" opacity="0.74"/><circle cx="150.5" cy="287.5" r="0.68" fill="#c8582a" opacity="0.44"/><circle cx="155.8" cy="290.1" r="1.05" fill="#c8582a" opacity="0.66"/><circle cx="153.5" cy="294.2" r="0.88" fill="#c8582a" opacity="0.54"/><circle cx="142.5" cy="297.1" r="0.73" fill="#c8582a" opacity="0.32"/><circle cx="138.0" cy="266.7" r="0.91" fill="#c8582a" opacity="0.69"/><circle cx="153.0" cy="309.7" r="0.70" fill="#c8582a" opacity="0.51"/><circle cx="165.3" cy="296.9" r="0.76" fill="#c8582a" opacity="0.83"/><circle cx="131.2" cy="283.4" r="1.01" fill="#c8582a" opacity="0.83"/><circle cx="139.1" cy="308.9" r="0.82" fill="#c8582a" opacity="0.86"/><circle cx="145.4" cy="295.5" r="0.89" fill="#c8582a" opacity="0.89"/><circle cx="145.9" cy="269.6" r="0.57" fill="#c8582a" opacity="0.71"/><circle cx="133.3" cy="312.8" r="0.59" fill="#c8582a" opacity="0.41"/><circle cx="174.6" cy="279.9" r="0.95" fill="#c8582a" opacity="0.51"/><circle cx="141.4" cy="267.6" r="1.09" fill="#c8582a" opacity="0.42"/><circle cx="172.5" cy="316.0" r="0.91" fill="#c8582a" opacity="0.46"/>
<circle cx="164.3" cy="318.1" r="1.39" fill="#2c3010" opacity="0.51"/><circle cx="158.7" cy="322.9" r="1.39" fill="#2c3010" opacity="0.47"/><circle cx="139.5" cy="292.2" r="0.85" fill="#2c3010" opacity="0.40"/><circle cx="147.6" cy="257.2" r="1.29" fill="#2c3010" opacity="0.44"/><circle cx="156.3" cy="296.5" r="1.12" fill="#2c3010" opacity="0.69"/><circle cx="154.8" cy="307.2" r="1.38" fill="#2c3010" opacity="0.72"/><circle cx="156.5" cy="310.4" r="0.90" fill="#2c3010" opacity="0.46"/><circle cx="170.7" cy="311.4" r="0.81" fill="#2c3010" opacity="0.85"/><circle cx="158.6" cy="313.5" r="1.50" fill="#2c3010" opacity="0.59"/><circle cx="135.4" cy="304.9" r="1.51" fill="#2c3010" opacity="0.64"/><circle cx="142.7" cy="267.2" r="1.74" fill="#2c3010" opacity="0.63"/><circle cx="139.9" cy="325.7" r="1.78" fill="#2c3010" opacity="0.49"/><circle cx="139.3" cy="301.6" r="1.19" fill="#2c3010" opacity="0.64"/><circle cx="162.1" cy="258.7" r="1.39" fill="#2c3010" opacity="0.50"/><circle cx="140.4" cy="284.3" r="1.23" fill="#2c3010" opacity="0.85"/><circle cx="136.7" cy="319.1" r="1.06" fill="#2c3010" opacity="0.57"/><circle cx="135.0" cy="262.7" r="1.78" fill="#2c3010" opacity="0.58"/><circle cx="169.3" cy="324.8" r="1.50" fill="#2c3010" opacity="0.49"/><circle cx="150.3" cy="248.7" r="1.05" fill="#2c3010" opacity="0.57"/><circle cx="137.8" cy="296.9" r="1.32" fill="#2c3010" opacity="0.55"/><circle cx="142.0" cy="246.4" r="0.91" fill="#2c3010" opacity="0.62"/><circle cx="133.5" cy="282.1" r="1.06" fill="#2c3010" opacity="0.79"/><circle cx="142.5" cy="313.5" r="1.75" fill="#2c3010" opacity="0.86"/><circle cx="140.7" cy="320.3" r="1.27" fill="#2c3010" opacity="0.84"/><circle cx="151.8" cy="283.9" r="1.06" fill="#2c3010" opacity="0.78"/><circle cx="147.3" cy="316.1" r="1.51" fill="#2c3010" opacity="0.61"/><circle cx="131.5" cy="258.2" r="1.22" fill="#2c3010" opacity="0.59"/><circle cx="157.4" cy="233.5" r="1.27" fill="#2c3010" opacity="0.85"/><circle cx="174.8" cy="297.7" r="1.49" fill="#2c3010" opacity="0.70"/><circle cx="177.0" cy="307.3" r="1.26" fill="#2c3010" opacity="0.65"/><circle cx="174.2" cy="284.9" r="1.40" fill="#2c3010" opacity="0.55"/><circle cx="161.2" cy="278.9" r="1.74" fill="#2c3010" opacity="0.90"/><circle cx="176.8" cy="322.4" r="0.84" fill="#2c3010" opacity="0.44"/><circle cx="145.9" cy="310.7" r="1.36" fill="#2c3010" opacity="0.53"/><circle cx="134.7" cy="256.5" r="0.93" fill="#2c3010" opacity="0.47"/><circle cx="165.0" cy="251.2" r="0.97" fill="#2c3010" opacity="0.71"/><circle cx="136.1" cy="311.3" r="1.45" fill="#2c3010" opacity="0.84"/><circle cx="164.1" cy="301.7" r="1.07" fill="#2c3010" opacity="0.61"/><circle cx="147.9" cy="269.8" r="1.71" fill="#2c3010" opacity="0.62"/><circle cx="167.6" cy="292.3" r="0.88" fill="#2c3010" opacity="0.51"/>
<path d="M123.1,236.3 L122.8,237.7 L123.0,240.0 L123.2,242.4 L123.4,243.8 L123.3,246.0 L123.2,247.9 L123.1,250.2 L124.0,252.4 L123.8,253.9 L123.9,256.1 L123.6,258.0 L124.0,259.7 L124.1,262.3 L124.5,263.8 L124.3,266.1 L124.9,267.8 L125.0,269.9 L125.3,272.4 L125.3,274.0 L125.7,276.2 L125.5,277.7 L126.4,279.6 L126.3,281.8 L126.3,284.0 L126.2,285.7 L127.1,287.5 L126.4,290.2 L126.8,291.7 L127.3,294.5 L126.9,296.2 L127.2,298.5 L127.6,300.4 L127.8,301.6 L127.8,304.2 L127.7,305.6 L128.7,308.4 L128.5,309.6 L128.7,312.5 L129.0,314.2 L128.8,316.1 L129.4,318.0 L128.8,319.6 L129.8,322.2 L130.0,323.6 L129.7,326.0" stroke="#ee5a22" stroke-width="2.6" fill="none"/>
<path d="M114.8,240.1 L117.0,238.5 L118.8,237.2 L121.7,237.6 L124.0,238.0" stroke="#e85020" stroke-width="1.8" fill="none"/>
<path d="M108.6,255.0 L108.8,257.1 L108.9,259.3 L109.7,261.7 L109.1,263.7 L109.9,265.6 L110.2,268.3 L109.6,270.1 L109.6,272.1 L109.5,274.6 L109.3,276.8 L108.6,278.9 L108.5,280.4 L108.6,282.9 L107.7,285.4 L108.3,287.3 L109.2,289.2 L109.0,291.5 L109.1,293.7 L110.1,296.0 L110.0,298.0" stroke="#e24a20" stroke-width="2" fill="none"/>
<path d="M112.8,300.2 L112.5,301.9 L112.0,303.9 L111.5,305.9 L110.9,307.8 L109.7,309.8 L109.8,312.4 L110.7,313.9 L110.1,316.4 L110.9,317.7 L110.4,320.0 L110.4,321.7 L110.8,323.6 L111.0,326.0" stroke="#e24a20" stroke-width="2.2" fill="none"/>
<path d="M110,302 C113,300 116,302 117,306" stroke="#e24a20" stroke-width="1.6" fill="none"/>
<path d="M153,252 C148,256 146,266 148,276 C152,284 160,290 168,296 C172,298 175,292 172,289 C166,285 158,278 156,270 C155,262 156,256 153,252 Z" stroke="#e84c24" stroke-width="1.5" fill="#3c3e18"/>
</g></g>
<rect x="104.8" y="233.8" width="71.5" height="92.5" fill="none" stroke="#d42a3c" stroke-width="1.8"/>
<rect x="156" y="322.6" width="17.2" height="2.2" fill="#fff"/></g>
<g id="panelB" clip-path="url(#cB)">
<rect x="179.5" y="34" width="65" height="293.5" fill="#201506"/>
<path d="M207,35.4 L211.6,35.1 L236.5,54.9 L229.8,65 L235.9,73 L226.5,83.8 L227.8,94.6 L231.8,110.8 L229,125 L230.5,178.8 L229.8,225 L242.6,238.5 L231.8,254.6 L241.3,265.4 L241.3,295 L217,327.3 L209,326 L191.5,311 L184.7,295 L186,281.5 L184,240 L187,225 L186,165 L183,135 L182.5,125 L183.4,113.4 L191.5,97.3 L200.9,81.1 L204.9,63.6 L204.2,42.8 Z" fill="#8a3a16" filter="url(#bl)"/>
<g clip-path="url(#cBo)">
<g filter="url(#bl4)">
<path d="M209,70 L225,70 L225,112 L216,117 L209,112 Z" fill="#7c7c2a" opacity="0.95"/>
<path d="M214,112 L228,108 L228,205 L214,205 Z" fill="#7e7e2c" opacity="0.9"/>
<ellipse cx="218" cy="50" rx="8" ry="8" fill="#7a7e2a" opacity="0.9"/>
<ellipse cx="214" cy="60" rx="5" ry="5" fill="#6a6e22" opacity="0.7"/>
<ellipse cx="199" cy="150" rx="6" ry="26" fill="#8a5a1c" opacity="0.55"/>
<ellipse cx="196" cy="110" rx="5" ry="8" fill="#8a5a1c" opacity="0.4"/>
<ellipse cx="207" cy="200" rx="13" ry="16" fill="#727228" opacity="0.95"/>
<ellipse cx="214" cy="222" rx="12" ry="12" fill="#6a6e22" opacity="0.95"/>
<ellipse cx="208" cy="245" rx="15" ry="14" fill="#646a20" opacity="0.95"/>
<ellipse cx="228" cy="240" rx="8" ry="10" fill="#5a5a1c" opacity="0.7"/>
<ellipse cx="234" cy="280" rx="5" ry="12" fill="#5e5a1c" opacity="0.6"/>
<ellipse cx="214" cy="300" rx="6" ry="6" fill="#7a4a16" opacity="0.5"/>
</g>
<g filter="url(#bl)">
<circle cx="208.3" cy="238.1" r="1.25" fill="#d84a1e" opacity="0.73"/><circle cx="210.3" cy="239.9" r="0.73" fill="#d84a1e" opacity="0.76"/><circle cx="214.7" cy="253.9" r="0.67" fill="#d84a1e" opacity="0.65"/><circle cx="195.3" cy="255.1" r="1.09" fill="#d84a1e" opacity="0.52"/><circle cx="215.5" cy="241.9" r="0.71" fill="#d84a1e" opacity="0.51"/><circle cx="211.0" cy="204.0" r="0.73" fill="#d84a1e" opacity="0.62"/><circle cx="193.1" cy="231.5" r="0.91" fill="#d84a1e" opacity="0.92"/><circle cx="210.7" cy="243.5" r="0.95" fill="#d84a1e" opacity="0.83"/><circle cx="208.5" cy="218.9" r="1.30" fill="#d84a1e" opacity="1.00"/><circle cx="222.2" cy="248.1" r="0.82" fill="#d84a1e" opacity="0.61"/><circle cx="202.4" cy="204.8" r="1.14" fill="#d84a1e" opacity="0.70"/><circle cx="222.5" cy="226.3" r="1.27" fill="#d84a1e" opacity="0.92"/><circle cx="224.8" cy="232.0" r="1.29" fill="#d84a1e" opacity="0.70"/><circle cx="194.6" cy="242.8" r="1.14" fill="#d84a1e" opacity="0.63"/><circle cx="195.1" cy="222.6" r="1.27" fill="#d84a1e" opacity="0.88"/><circle cx="196.2" cy="216.8" r="0.67" fill="#d84a1e" opacity="0.53"/><circle cx="220.7" cy="212.1" r="0.99" fill="#d84a1e" opacity="0.72"/><circle cx="198.9" cy="249.8" r="0.69" fill="#d84a1e" opacity="0.82"/><circle cx="196.2" cy="228.6" r="0.75" fill="#d84a1e" opacity="0.63"/><circle cx="202.9" cy="260.2" r="0.75" fill="#d84a1e" opacity="0.70"/><circle cx="222.8" cy="243.6" r="0.67" fill="#d84a1e" opacity="0.99"/><circle cx="199.7" cy="217.6" r="1.14" fill="#d84a1e" opacity="0.66"/><circle cx="202.7" cy="205.0" r="0.66" fill="#d84a1e" opacity="0.79"/><circle cx="200.7" cy="240.9" r="0.86" fill="#d84a1e" opacity="0.73"/><circle cx="226.5" cy="232.9" r="1.00" fill="#d84a1e" opacity="0.93"/><circle cx="198.6" cy="210.5" r="1.24" fill="#d84a1e" opacity="0.91"/><circle cx="201.0" cy="212.9" r="1.12" fill="#d84a1e" opacity="0.97"/><circle cx="199.1" cy="264.6" r="1.22" fill="#d84a1e" opacity="0.80"/><circle cx="207.2" cy="207.1" r="0.63" fill="#d84a1e" opacity="0.98"/><circle cx="200.6" cy="247.9" r="0.78" fill="#d84a1e" opacity="0.91"/><circle cx="213.5" cy="220.0" r="0.72" fill="#d84a1e" opacity="0.86"/><circle cx="194.5" cy="215.5" r="0.99" fill="#d84a1e" opacity="0.93"/><circle cx="214.1" cy="219.1" r="1.24" fill="#d84a1e" opacity="0.60"/><circle cx="192.6" cy="218.3" r="0.91" fill="#d84a1e" opacity="0.53"/><circle cx="198.3" cy="225.1" r="1.00" fill="#d84a1e" opacity="0.57"/><circle cx="205.0" cy="260.6" r="1.29" fill="#d84a1e" opacity="0.83"/><circle cx="216.9" cy="239.7" r="0.70" fill="#d84a1e" opacity="0.52"/><circle cx="217.2" cy="265.5" r="0.61" fill="#d84a1e" opacity="0.82"/><circle cx="209.4" cy="249.7" r="0.82" fill="#d84a1e" opacity="1.00"/><circle cx="194.7" cy="237.1" r="1.12" fill="#d84a1e" opacity="0.95"/><circle cx="218.5" cy="247.9" r="1.16" fill="#d84a1e" opacity="0.96"/><circle cx="204.7" cy="246.6" r="1.23" fill="#d84a1e" opacity="0.94"/><circle cx="207.0" cy="253.8" r="1.20" fill="#d84a1e" opacity="0.79"/><circle cx="214.5" cy="226.0" r="1.01" fill="#d84a1e" opacity="0.80"/><circle cx="194.9" cy="243.5" r="1.30" fill="#d84a1e" opacity="0.94"/><circle cx="218.2" cy="226.4" r="1.11" fill="#d84a1e" opacity="0.79"/><circle cx="207.9" cy="257.0" r="0.66" fill="#d84a1e" opacity="0.88"/><circle cx="209.3" cy="215.7" r="1.09" fill="#d84a1e" opacity="0.75"/><circle cx="214.1" cy="262.6" r="0.78" fill="#d84a1e" opacity="0.51"/><circle cx="202.8" cy="246.1" r="0.74" fill="#d84a1e" opacity="0.58"/><circle cx="224.6" cy="244.9" r="0.91" fill="#d84a1e" opacity="0.95"/><circle cx="203.8" cy="245.3" r="0.74" fill="#d84a1e" opacity="0.72"/><circle cx="221.0" cy="262.2" r="1.22" fill="#d84a1e" opacity="0.69"/><circle cx="213.0" cy="221.5" r="0.70" fill="#d84a1e" opacity="0.75"/><circle cx="222.1" cy="257.7" r="1.10" fill="#d84a1e" opacity="0.98"/><circle cx="202.0" cy="211.5" r="0.92" fill="#d84a1e" opacity="0.64"/><circle cx="199.7" cy="228.2" r="1.04" fill="#d84a1e" opacity="0.75"/><circle cx="203.4" cy="257.1" r="1.29" fill="#d84a1e" opacity="0.73"/><circle cx="194.7" cy="202.1" r="1.21" fill="#d84a1e" opacity="0.52"/><circle cx="217.5" cy="238.8" r="0.82" fill="#d84a1e" opacity="0.90"/><circle cx="192.7" cy="209.2" r="0.92" fill="#d84a1e" opacity="0.51"/><circle cx="221.9" cy="216.1" r="0.70" fill="#d84a1e" opacity="0.52"/><circle cx="214.7" cy="230.4" r="1.04" fill="#d84a1e" opacity="0.83"/><circle cx="221.1" cy="265.2" r="1.08" fill="#d84a1e" opacity="0.60"/><circle cx="209.1" cy="212.2" r="0.61" fill="#d84a1e" opacity="0.74"/><circle cx="217.7" cy="212.2" r="0.79" fill="#d84a1e" opacity="0.67"/><circle cx="217.1" cy="235.4" r="1.03" fill="#d84a1e" opacity="0.88"/><circle cx="206.2" cy="253.9" r="1.23" fill="#d84a1e" opacity="0.54"/><circle cx="225.6" cy="249.1" r="0.69" fill="#d84a1e" opacity="0.73"/><circle cx="214.5" cy="261.9" r="0.86" fill="#d84a1e" opacity="0.78"/><circle cx="223.7" cy="254.2" r="1.26" fill="#d84a1e" opacity="0.73"/><circle cx="215.4" cy="213.9" r="1.11" fill="#d84a1e" opacity="0.91"/><circle cx="215.1" cy="248.8" r="0.75" fill="#d84a1e" opacity="0.95"/><circle cx="211.3" cy="253.8" r="0.82" fill="#d84a1e" opacity="0.95"/><circle cx="222.8" cy="223.7" r="0.66" fill="#d84a1e" opacity="0.72"/><circle cx="211.8" cy="252.2" r="0.94" fill="#d84a1e" opacity="0.51"/><circle cx="221.1" cy="204.4" r="1.16" fill="#d84a1e" opacity="0.59"/><circle cx="204.1" cy="253.6" r="0.70" fill="#d84a1e" opacity="0.57"/><circle cx="210.6" cy="249.2" r="1.19" fill="#d84a1e" opacity="0.84"/><circle cx="226.0" cy="233.5" r="1.26" fill="#d84a1e" opacity="0.54"/>
<circle cx="198.4" cy="147.9" r="0.77" fill="#c8521e" opacity="0.66"/><circle cx="214.3" cy="147.5" r="1.11" fill="#c8521e" opacity="0.58"/><circle cx="201.8" cy="131.9" r="1.11" fill="#c8521e" opacity="0.75"/><circle cx="197.9" cy="183.6" r="1.18" fill="#c8521e" opacity="0.56"/><circle cx="211.8" cy="112.1" r="0.92" fill="#c8521e" opacity="0.55"/><circle cx="213.0" cy="93.1" r="1.18" fill="#c8521e" opacity="0.56"/><circle cx="205.2" cy="178.1" r="0.94" fill="#c8521e" opacity="0.55"/><circle cx="216.3" cy="97.2" r="0.92" fill="#c8521e" opacity="0.51"/><circle cx="226.4" cy="191.6" r="0.76" fill="#c8521e" opacity="0.54"/><circle cx="194.8" cy="137.7" r="1.09" fill="#c8521e" opacity="0.75"/><circle cx="208.1" cy="124.9" r="0.71" fill="#c8521e" opacity="0.61"/><circle cx="225.2" cy="104.2" r="1.07" fill="#c8521e" opacity="0.31"/><circle cx="197.4" cy="115.0" r="1.01" fill="#c8521e" opacity="0.46"/><circle cx="203.5" cy="158.2" r="0.66" fill="#c8521e" opacity="0.67"/><circle cx="194.7" cy="146.2" r="0.75" fill="#c8521e" opacity="0.40"/><circle cx="210.2" cy="138.0" r="0.83" fill="#c8521e" opacity="0.51"/><circle cx="210.1" cy="107.6" r="0.72" fill="#c8521e" opacity="0.62"/><circle cx="214.3" cy="148.3" r="1.11" fill="#c8521e" opacity="0.61"/><circle cx="222.6" cy="115.6" r="1.04" fill="#c8521e" opacity="0.71"/><circle cx="224.3" cy="124.7" r="0.79" fill="#c8521e" opacity="0.76"/><circle cx="198.3" cy="199.8" r="1.13" fill="#c8521e" opacity="0.37"/><circle cx="199.1" cy="169.9" r="0.76" fill="#c8521e" opacity="0.35"/><circle cx="221.6" cy="136.4" r="1.07" fill="#c8521e" opacity="0.36"/><circle cx="205.3" cy="165.4" r="0.61" fill="#c8521e" opacity="0.40"/><circle cx="215.9" cy="190.3" r="1.18" fill="#c8521e" opacity="0.36"/><circle cx="209.2" cy="173.4" r="0.90" fill="#c8521e" opacity="0.64"/><circle cx="197.2" cy="97.8" r="0.66" fill="#c8521e" opacity="0.32"/><circle cx="211.0" cy="146.6" r="0.94" fill="#c8521e" opacity="0.37"/><circle cx="197.0" cy="112.4" r="1.10" fill="#c8521e" opacity="0.80"/><circle cx="225.2" cy="100.5" r="0.64" fill="#c8521e" opacity="0.78"/><circle cx="207.6" cy="174.1" r="0.80" fill="#c8521e" opacity="0.53"/><circle cx="209.6" cy="137.3" r="0.96" fill="#c8521e" opacity="0.31"/><circle cx="216.6" cy="182.9" r="0.71" fill="#c8521e" opacity="0.53"/><circle cx="218.1" cy="134.6" r="0.72" fill="#c8521e" opacity="0.38"/><circle cx="209.5" cy="91.7" r="1.14" fill="#c8521e" opacity="0.70"/><circle cx="216.8" cy="184.7" r="0.98" fill="#c8521e" opacity="0.50"/><circle cx="212.8" cy="145.5" r="1.19" fill="#c8521e" opacity="0.70"/><circle cx="199.8" cy="190.2" r="1.05" fill="#c8521e" opacity="0.69"/><circle cx="221.0" cy="134.6" r="1.14" fill="#c8521e" opacity="0.74"/><circle cx="216.4" cy="174.4" r="1.06" fill="#c8521e" opacity="0.50"/><circle cx="217.5" cy="97.8" r="0.81" fill="#c8521e" opacity="0.53"/><circle cx="190.4" cy="129.1" r="0.98" fill="#c8521e" opacity="0.61"/><circle cx="198.8" cy="193.9" r="1.00" fill="#c8521e" opacity="0.47"/><circle cx="215.1" cy="152.7" r="0.92" fill="#c8521e" opacity="0.49"/><circle cx="228.0" cy="160.6" r="1.02" fill="#c8521e" opacity="0.68"/><circle cx="227.2" cy="92.5" r="0.97" fill="#c8521e" opacity="0.67"/><circle cx="199.8" cy="134.2" r="0.63" fill="#c8521e" opacity="0.40"/><circle cx="204.3" cy="100.8" r="0.75" fill="#c8521e" opacity="0.75"/><circle cx="210.9" cy="145.9" r="1.18" fill="#c8521e" opacity="0.58"/><circle cx="227.8" cy="160.2" r="1.09" fill="#c8521e" opacity="0.34"/>
<circle cx="220.3" cy="65.8" r="0.63" fill="#d84a1e" opacity="0.87"/><circle cx="209.8" cy="56.0" r="0.70" fill="#d84a1e" opacity="0.65"/><circle cx="218.6" cy="60.3" r="0.82" fill="#d84a1e" opacity="0.54"/><circle cx="221.7" cy="59.1" r="0.77" fill="#d84a1e" opacity="0.76"/><circle cx="209.8" cy="65.7" r="0.83" fill="#d84a1e" opacity="0.85"/><circle cx="216.3" cy="56.2" r="1.18" fill="#d84a1e" opacity="0.52"/><circle cx="218.6" cy="71.9" r="1.03" fill="#d84a1e" opacity="0.63"/><circle cx="221.0" cy="55.5" r="0.72" fill="#d84a1e" opacity="0.43"/><circle cx="216.6" cy="62.7" r="0.87" fill="#d84a1e" opacity="0.53"/><circle cx="220.0" cy="54.3" r="1.07" fill="#d84a1e" opacity="0.67"/><circle cx="208.7" cy="70.4" r="1.07" fill="#d84a1e" opacity="0.71"/><circle cx="214.6" cy="49.2" r="1.01" fill="#d84a1e" opacity="0.68"/>
<path d="M208.5,112 C209,118 207,124 207.8,132 C208.5,142 207.5,152 208.5,162 C209,170 208.5,176 210,180 L213.5,180 C214.5,172 214,164 215,156 C215.5,146 214,138 214.5,128 C214.5,122 212,116 210.5,112 Z" fill="#1c1005" filter="url(#bl)"/>
<ellipse cx="211" cy="196" rx="3.8" ry="8" fill="#1c1005" filter="url(#bl)"/>
<circle cx="220" cy="49" r="1.3" fill="#1c1005"/><circle cx="216" cy="60" r="1.1" fill="#2a1808"/><circle cx="222" cy="211" r="1.5" fill="#2a1808"/>
<path d="M190.1,96.1 L190.1,97.8 L189.7,100.3 L190.1,102.3 L189.4,103.7 L189.5,105.9 L189.7,107.7 L189.6,109.7 L189.2,112.1 L189.5,114.1 L189.3,116.0 L189.2,117.9 L189.5,120.2 L188.9,121.7 L189.4,124.1 L189.3,125.8 L189.0,127.8 L189.2,129.9 L189.1,132.3 L188.9,134.0 L189.2,136.3 L189.0,137.9 L188.8,140.3 L188.9,141.7 L189.2,144.0 L189.3,145.9 L189.4,147.7 L189.0,150.1 L189.0,151.9 L189.5,154.1 L189.2,155.8 L189.3,158.2 L189.3,159.7 L189.5,162.0 L189.7,164.3 L189.7,166.0 L189.7,167.9 L189.4,169.9 L189.8,172.3 L189.4,173.9 L189.5,175.9 L189.5,177.9 L189.4,180.0 L189.8,182.0 L189.9,184.0 L189.4,186.2 L189.9,187.8 L189.3,190.0 L189.7,192.0 L190.0,194.1 L189.9,195.7 L189.8,198.2 L189.5,199.7 L189.9,202.3 L189.5,204.1 L189.6,206.2 L189.9,207.8 L189.6,210.2 L189.9,212.2 L189.8,213.9 L190.2,216.1 L189.9,218.0 L190.1,220.1 L190.2,221.9 L190.2,224.1 L190.2,226.2 L190.2,228.3 L190.3,230.1 L189.9,232.1 L190.1,233.9 L189.7,235.8 L189.8,238.3 L189.5,239.8 L189.3,241.9 L189.3,244.3 L189.1,245.9 L189.0,248.1 L189.4,249.8 L188.8,252.0 L189.1,254.3 L188.6,255.7 L188.7,257.8 L188.6,260.2 L188.8,261.8 L188.4,263.8 L188.3,266.2 L188.3,268.0 L188.6,270.0 L188.2,272.3 L188.5,273.9 L188.2,276.3 L188.1,277.8 L188.0,280.0" stroke="#e0401a" stroke-width="1.8" fill="none"/>
<path d="M226.7,88.3 L227.3,90.0 L227.1,92.1 L227.0,94.5 L227.3,96.0 L226.9,98.3 L227.2,100.5 L227.5,102.5 L227.2,104.2 L227.4,106.3 L227.8,108.6 L227.7,111.0 L227.5,112.7 L227.5,114.9 L227.4,117.0 L228.1,119.1 L227.6,120.7 L228.1,122.7 L228.0,125.0 L228.3,127.1 L228.3,128.9 L228.3,131.1 L228.4,132.9 L228.3,135.0 L228.1,137.2 L227.9,139.5 L228.0,141.2 L227.9,143.2 L228.2,145.5 L228.1,147.5 L227.9,149.4 L228.2,151.8 L228.5,153.6 L227.9,155.5 L228.4,157.4 L228.4,159.6 L228.0,162.0 L228.6,163.5 L228.5,165.6 L228.3,167.8 L228.3,169.7 L228.4,172.0 L228.3,173.7 L228.6,175.8 L228.8,178.0 L228.7,179.9 L228.7,181.8 L228.2,183.8 L228.6,186.3 L228.2,188.1 L228.6,190.3 L228.1,192.1 L228.1,194.1 L228.3,196.1 L228.6,198.4 L228.3,200.6 L228.4,202.7 L228.1,204.4 L228.1,206.3 L228.1,208.8 L228.5,210.9 L228.2,212.8 L227.8,214.7 L228.0,216.9 L227.8,218.8 L228.1,221.1 L228.3,223.0 L227.8,225.2 L228.2,227.1 L227.7,229.2 L227.5,231.4 L228.0,233.3 L227.7,235.7 L227.3,237.8 L227.5,239.4 L227.0,241.5 L227.3,243.9 L227.0,246.1 L227.0,247.9 L227.0,250.0" stroke="#e0401a" stroke-width="1.8" fill="none"/>
<path d="M206.7,35.7 L209.0,35.5 L211.6,35.1 L213.3,36.3 L215.2,38.1 L216.8,39.1 L218.0,40.6 L219.8,42.0 L221.4,43.1 L223.5,44.1 L224.9,45.4 L226.2,46.8 L228.5,48.6 L230.0,49.5 L231.6,51.1 L233.1,52.3 L235.1,53.2 L236.3,54.9 L235.1,56.5 L234.3,58.0 L233.2,59.8 L232.1,61.5 L231.0,63.0 L229.9,64.8 L231.3,66.7 L232.2,68.1 L233.5,69.9 L234.9,71.6 L235.9,73.3 L234.8,74.8 L233.2,76.0 L231.9,77.9 L230.5,79.2 L229.1,81.0 L227.7,81.9 L226.5,83.8" stroke="#e64a1e" stroke-width="1.4" fill="none"/>
<path d="M204.4,43.1 L204.4,44.9 L204.5,46.8 L204.5,48.7 L204.2,51.1 L204.6,53.1 L204.3,55.4 L204.7,57.2 L204.6,59.4 L204.6,61.2 L205.2,63.9 L204.5,66.0 L203.8,68.2 L203.2,70.3 L202.9,72.6 L202.1,74.7 L201.6,76.8 L201.7,78.6 L200.7,81.0 L199.7,82.6 L199.1,84.9 L197.7,86.4 L196.8,88.0 L195.3,90.4 L194.5,91.9 L193.9,94.0 L192.5,95.3 L191.4,97.6 L190.9,98.9 L189.9,100.8 L188.8,102.4 L188.2,104.8 L186.8,106.3 L185.9,108.3 L184.9,109.5 L184.5,111.5 L183.4,113.4" stroke="#d84a20" stroke-width="1.2" fill="none"/>
<path d="M203.3,67.3 L205.2,66.7 L207.3,67.3 L209.2,66.7 L211.2,66.9 L213.6,66.8 L215.3,66.8 L217.8,67.2 L219.6,67.1 L222.1,67.1 L223.7,66.9 L226.0,67.0" stroke="#e0421c" stroke-width="1.6" fill="none"/>
<path d="M205.3,86.1 L206.8,86.1 L208.7,86.3 L211.0,86.0 L213.0,85.7 L215.1,85.8 L216.8,86.2 L218.7,85.8 L221.2,85.8 L222.8,86.0 L225.0,86.0" stroke="#d0441c" stroke-width="1.2" fill="none"/>
<path d="M229.6,225.3 L231.6,226.2 L232.6,228.2 L234.0,229.8 L235.5,230.8 L237.0,232.6 L238.2,234.1 L240.0,235.5 L241.2,237.2 L242.7,238.5 L241.7,240.1 L240.4,241.8 L239.1,243.7 L237.8,245.8 L236.8,247.6 L235.2,249.2 L234.0,251.1 L233.0,252.5 L231.9,254.8 L233.2,256.4 L234.3,257.4 L235.5,259.2 L237.2,260.7 L238.4,262.5 L239.6,264.1 L241.3,265.4 L241.5,267.3 L241.1,269.5 L241.0,271.6 L241.4,273.9 L241.1,276.0 L241.0,278.3 L241.1,280.0 L241.1,282.4 L241.5,284.6 L241.0,286.5 L241.2,288.5 L241.6,290.5 L241.3,293.1 L241.6,294.8 L240.1,296.8 L238.5,298.0 L237.9,299.6 L236.4,301.3 L235.2,302.8 L233.7,305.0 L233.0,306.5 L231.4,307.7 L230.4,309.4 L229.1,311.5 L227.8,312.7 L227.1,314.5 L225.2,315.9 L224.4,317.3 L223.0,319.4 L222.1,320.9 L220.9,322.4 L219.4,324.3 L218.1,325.9 L217.0,327.3" stroke="#e64a1e" stroke-width="1.3" fill="none"/>
<path d="M185.8,224.9 L185.7,227.1 L185.5,228.9 L185.4,231.2 L185.4,233.2 L185.8,235.4 L185.5,237.1 L185.1,239.1 L185.2,241.4 L184.8,243.2 L184.6,245.4 L184.6,247.9 L184.7,249.5 L184.4,251.5 L184.7,253.7 L184.4,256.0 L184.4,257.6 L183.9,259.9 L183.9,262.4 L184.3,264.5 L184.6,266.1 L184.7,268.4 L184.7,270.5 L185.3,272.6 L185.3,275.0 L185.6,276.9 L185.9,279.2 L186.2,281.6 L185.5,283.5 L185.4,286.1 L185.3,288.2 L185.4,290.3 L184.8,292.6 L184.5,294.7 L185.2,297.1 L186.4,299.2 L187.6,300.9 L188.2,303.3 L188.8,305.1 L189.9,307.3 L190.9,308.8 L191.6,310.7 L193.0,312.3 L194.4,313.6 L196.2,315.1 L197.7,316.2 L199.4,317.8 L200.8,319.3 L202.5,320.3 L204.1,321.9 L205.6,323.3 L207.6,324.7 L209.0,326.0" stroke="#d84a20" stroke-width="1.2" fill="none"/>
<path d="M188,280 L204,272 L220,266 L234,262 L241,275 L241,295 L218,326 L208,325 L192,312 L186,296 Z" fill="#a42c12" opacity="0.85"/>
<path d="M190.4,281.1 L190.8,283.6 L191.1,285.4 L192.0,287.4 L194.0,289.1 L194.4,290.6 L194.8,292.5 L197.4,294.7 L197.2,296.7 L198.0,298.1 L199.7,300.8 L200.0,302.1 L201.7,304.5 L201.9,306.2 L202.2,307.8 L202.7,310.6 L204.5,311.8 L205.3,313.2 L204.6,316.0 L206.0,318.0" stroke="#f04420" stroke-width="1.65" fill="none" opacity="0.7"/>
<path d="M194.7,275.7 L196.9,277.2 L196.4,279.1 L198.3,281.0 L198.1,283.4 L199.8,284.6 L201.0,287.2 L202.1,289.0 L203.1,291.1 L204.8,292.1 L204.7,294.9 L205.7,296.4 L207.2,298.3 L208.4,300.6 L207.8,302.2 L209.2,304.1 L209.8,305.6 L211.2,308.1 L211.1,309.5 L212.1,311.4 L213.2,313.3 L214.0,316.0" stroke="#e83a18" stroke-width="1.20" fill="none" opacity="0.7"/>
<path d="M199.2,271.2 L200.4,274.0 L201.6,275.2 L203.9,277.0 L203.9,279.3 L206.3,279.5 L206.3,282.0 L208.4,283.5 L209.4,284.9 L210.5,286.7 L211.0,289.1 L213.0,290.9 L213.6,291.9 L214.8,294.0 L216.0,296.2 L215.7,297.2 L217.6,298.8 L217.7,300.2 L219.4,303.7 L221.0,304.1 L221.5,306.4 L222.3,308.2 L223.8,311.1 L224.0,312.0" stroke="#f04a22" stroke-width="1.50" fill="none" opacity="0.7"/>
<path d="M207.2,270.4 L208.7,270.9 L210.3,273.8 L212.9,274.4 L213.1,275.9 L214.8,278.5 L215.9,279.9 L218.0,282.5 L218.4,283.4 L220.4,285.8 L222.4,286.8 L223.0,289.0 L224.4,290.1 L224.4,292.0 L226.9,294.1 L227.3,295.8 L228.2,297.5 L229.8,299.6 L231.1,301.7 L232.0,304.0" stroke="#e8401a" stroke-width="1.20" fill="none" opacity="0.7"/>
<path d="M215.5,268.0 L217.1,269.1 L218.0,270.3 L220.9,272.3 L220.8,273.7 L222.9,276.7 L223.8,278.0 L225.7,278.7 L227.7,280.3 L227.7,282.1 L230.0,284.0 L230.5,286.3 L232.7,288.1 L233.1,289.6 L234.8,290.2 L234.8,291.9 L236.1,293.5 L238.0,296.0" stroke="#f04420" stroke-width="1.35" fill="none" opacity="0.7"/>
<path d="M223.7,266.5 L225.2,267.5 L226.3,268.5 L229.6,269.6 L230.4,272.6 L232.4,273.9 L233.3,275.5 L235.4,277.3 L237.0,277.9 L238.2,280.2 L239.1,281.8 L240.0,284.0" stroke="#e83a18" stroke-width="1.05" fill="none" opacity="0.7"/>
<path d="M188.7,299.1 L189.4,301.3 L190.3,303.4 L192.0,306.1 L192.8,307.6 L194.0,308.8 L196.2,310.7 L195.7,312.9 L197.7,314.9 L198.6,317.7 L199.4,319.2 L200.0,322.0" stroke="#e03a18" stroke-width="1.20" fill="none" opacity="0.7"/>
<path d="M204.3,299.4 L205.7,301.9 L206.1,304.0 L207.8,305.7 L209.1,308.8 L209.5,310.7 L210.7,312.5 L210.8,314.9 L211.9,316.8 L212.0,317.8 L213.4,319.4 L213.1,322.3 L214.0,324.0" stroke="#e84420" stroke-width="0.98" fill="none" opacity="0.7"/>
<path d="M226.8,299.7 L227.1,298.5 L230.1,296.9 L231.1,296.0 L232.8,294.5 L233.9,294.0 L235.5,291.9 L236.0,290.0" stroke="#e84420" stroke-width="0.98" fill="none" opacity="0.7"/>
<path d="M214.8,298.3 L216.1,301.4 L216.1,304.7 L216.8,307.3 L216.9,311.0" stroke="#f25424" stroke-width="1.0" fill="none" opacity="0.66"/><path d="M211.7,300.0 L208.4,300.8 L205.9,297.4 L202.2,295.4" stroke="#f25424" stroke-width="1.0" fill="none" opacity="0.89"/><path d="M209.3,317.5 L211.8,317.2 L214.6,320.5 L217.0,320.6" stroke="#f25424" stroke-width="1.0" fill="none" opacity="0.45"/><path d="M201.3,278.7 L201.1,281.5 L198.6,283.7" stroke="#f25424" stroke-width="1.0" fill="none" opacity="0.67"/><path d="M233.9,274.5 L234.9,276.6 L237.2,280.2 L236.5,282.3 L235.9,284.4" stroke="#f25424" stroke-width="1.0" fill="none" opacity="0.83"/><path d="M197.5,283.4 L199.7,284.2 L202.6,282.9" stroke="#f25424" stroke-width="1.0" fill="none" opacity="0.82"/><path d="M220.7,319.7 L224.5,318.7 L227.8,321.3 L231.8,321.0 L233.8,320.5" stroke="#f25424" stroke-width="1.0" fill="none" opacity="0.57"/><path d="M204.7,302.3 L206.0,304.6 L205.7,307.1 L205.1,309.1 L205.7,311.8" stroke="#f25424" stroke-width="1.0" fill="none" opacity="0.57"/><path d="M221.0,281.7 L224.7,283.7 L227.6,284.2" stroke="#f25424" stroke-width="1.0" fill="none" opacity="0.60"/><path d="M195.8,302.4 L193.2,304.5 L189.4,307.6 L187.3,311.1 L187.7,314.8" stroke="#f25424" stroke-width="1.0" fill="none" opacity="0.54"/><path d="M234.3,280.3 L236.5,278.9 L238.6,277.4 L240.5,275.5 L243.2,274.0" stroke="#f25424" stroke-width="1.0" fill="none" opacity="0.57"/><path d="M219.0,304.1 L216.8,307.5 L216.9,310.7 L220.6,313.6 L223.9,313.8" stroke="#f25424" stroke-width="1.0" fill="none" opacity="0.57"/><path d="M219.3,296.9 L222.2,295.8 L225.5,293.3" stroke="#f25424" stroke-width="1.0" fill="none" opacity="0.73"/><path d="M206.2,319.5 L208.7,319.7 L210.2,317.7" stroke="#f25424" stroke-width="1.0" fill="none" opacity="0.65"/><path d="M213.4,303.7 L213.6,308.7 L215.0,313.0" stroke="#f25424" stroke-width="1.0" fill="none" opacity="0.72"/><path d="M191.5,291.6 L188.3,290.1 L185.4,288.1 L184.9,284.6 L180.9,282.7" stroke="#f25424" stroke-width="1.0" fill="none" opacity="0.40"/><path d="M213.1,318.6 L213.2,323.2 L209.1,325.5" stroke="#f25424" stroke-width="1.0" fill="none" opacity="0.41"/><path d="M206.6,296.3 L205.1,294.5 L206.9,291.3" stroke="#f25424" stroke-width="1.0" fill="none" opacity="0.43"/>
<path d="M200.6,255.2 L196.6,257.0 L195.0,259.8 L196.4,262.1" stroke="#e04a1e" stroke-width="1.0" fill="none" opacity="0.63"/><path d="M212.1,247.5 L215.5,246.8 L217.4,243.6" stroke="#e04a1e" stroke-width="1.0" fill="none" opacity="0.49"/><path d="M214.2,266.6 L213.4,264.8 L209.1,263.5" stroke="#e04a1e" stroke-width="1.0" fill="none" opacity="0.77"/><path d="M217.7,235.9 L214.2,236.1 L212.1,233.1" stroke="#e04a1e" stroke-width="1.0" fill="none" opacity="0.78"/><path d="M219.9,244.8 L220.5,247.1 L218.5,249.3" stroke="#e04a1e" stroke-width="1.0" fill="none" opacity="0.64"/><path d="M215.5,263.7 L218.8,267.2 L222.6,266.6 L225.5,264.2 L226.0,261.9" stroke="#e04a1e" stroke-width="1.0" fill="none" opacity="0.80"/><path d="M205.8,254.7 L208.2,258.5 L211.8,258.4" stroke="#e04a1e" stroke-width="1.0" fill="none" opacity="0.67"/><path d="M206.4,238.5 L209.1,237.0 L212.1,238.9 L215.4,241.5" stroke="#e04a1e" stroke-width="1.0" fill="none" opacity="0.59"/><path d="M213.4,234.0 L215.4,231.6 L217.9,229.8 L219.7,226.4" stroke="#e04a1e" stroke-width="1.0" fill="none" opacity="0.69"/><path d="M203.3,248.9 L202.1,250.8 L202.0,253.6 L199.9,256.1" stroke="#e04a1e" stroke-width="1.0" fill="none" opacity="0.83"/><path d="M206.5,240.9 L204.8,238.8 L202.8,238.2" stroke="#e04a1e" stroke-width="1.0" fill="none" opacity="0.47"/><path d="M197.6,240.8 L200.6,243.3 L203.9,246.8 L204.7,248.7" stroke="#e04a1e" stroke-width="1.0" fill="none" opacity="0.87"/><path d="M219.1,252.0 L222.1,252.0 L226.7,253.3 L227.9,255.5 L231.9,255.8" stroke="#e04a1e" stroke-width="1.0" fill="none" opacity="0.47"/><path d="M219.2,255.7 L218.8,251.6 L216.7,250.6 L215.3,246.8" stroke="#e04a1e" stroke-width="1.0" fill="none" opacity="0.67"/><path d="M196.1,234.5 L193.7,238.6 L194.3,241.8 L194.6,246.3 L198.5,248.9" stroke="#e04a1e" stroke-width="1.0" fill="none" opacity="0.64"/><path d="M193.1,246.4 L189.8,247.4 L185.8,249.2 L182.6,250.6 L178.3,251.9" stroke="#e04a1e" stroke-width="1.0" fill="none" opacity="0.79"/>
</g></g>
<path d="M180,95 L182,90 M181,300 L183,305 M181,182 L183,178" stroke="#d84a30" stroke-width="1.6" fill="none" filter="url(#bl)"/>
<ellipse cx="235.5" cy="216" rx="2.2" ry="5" fill="#c8501e" opacity="0.9" filter="url(#bl)"/>
<rect x="179.5" y="34" width="22.8" height="15.4" fill="#fff"/>
<text x="180.9" y="45.5" font-size="12.6" fill="#d01c38" stroke="#d01c38" stroke-width="0.25">HA</text>
<rect x="186.5" y="222.5" width="12" height="12.5" stroke="#e44a6a" stroke-width="1" fill="none"/>
<rect x="218" y="322.6" width="22.6" height="2.2" fill="#fff"/>
</g>
<line x1="186.5" y1="222.5" x2="177" y2="233.5" stroke="#e44a6a" stroke-width="1"/>
<line x1="186.5" y1="235" x2="177" y2="327" stroke="#e44a6a" stroke-width="1"/>

<!-- ============ PANEL C ============ -->
<g id="panelC">
  <text transform="translate(287.6,153.5) rotate(-90)" text-anchor="middle" font-size="11" fill="#1a1a1a" stroke="#1a1a1a" stroke-width="0.2">% transplanted in extravascular BM</text>
  <path class="ax" d="M308.5,80.5 V219.5 H516"/>
  <path class="ax" d="M304.5,80.5 H308.5 M304.5,126.8 H308.5 M304.5,173.2 H308.5 M304.5,219.5 H308.5"/>
  <g class="tk" text-anchor="end">
    <text x="303.5" y="84">15</text><text x="303.5" y="130.5">10</text><text x="303.5" y="177">5</text><text x="303.5" y="223">0</text>
  </g>
  <path class="ax" d="M326,219.5 V223.5 M361,219.5 V223.5 M396,219.5 V223.5 M430,219.5 V223.5 M465,219.5 V223.5 M500,219.5 V223.5"/>
  <!-- group1 WT15 -->
  <path class="el" d="M320.8,186 H331.5 M320.8,194 H331.5 M326.2,186 V194"/>
  <g class="gp">
    <circle cx="326.2" cy="174.4" r="2.85"/><circle cx="326.2" cy="183.8" r="2.85"/><circle cx="317.5" cy="194.4" r="2.85"/>
    <circle cx="330" cy="191.5" r="2.85"/><circle cx="334.2" cy="196.9" r="2.85"/><circle cx="326.2" cy="199.2" r="2.85"/>
  </g>
  <path class="ml" d="M314.6,189.8 H337.3"/>
  <!-- group2 Opn15 -->
  <path class="el" d="M355,164.2 H366.5 M355,191.7 H366.5 M360.8,164.2 V191.7"/>
  <g class="bp">
    <circle cx="360.8" cy="137.7" r="2.85"/><circle cx="352.1" cy="184.8" r="2.85"/><circle cx="360.8" cy="191.2" r="2.85"/><circle cx="360.8" cy="199.8" r="2.85"/>
  </g>
  <path class="ml" d="M349.2,178 H372.3"/>
  <!-- group3 Has15 -->
  <path class="el" d="M390.5,188.8 H401 M390.5,196.3 H401 M395.8,188.8 V196.3"/>
  <g class="pp">
    <circle cx="395.8" cy="183.8" r="2.85"/><circle cx="387.3" cy="192.1" r="2.85"/><circle cx="395.8" cy="193.5" r="2.85"/><circle cx="395.8" cy="202.7" r="2.85"/>
  </g>
  <path class="ml" d="M384.8,192.7 H407"/>
  <!-- group4 WT45 -->
  <path class="el" d="M424,163.5 H435.8 M424,175.8 H435.8 M430,163.5 V175.8"/>
  <g class="gp">
    <circle cx="430" cy="141.2" r="2.85"/><circle cx="438.8" cy="145.3" r="2.85"/><circle cx="430" cy="151.1" r="2.85"/>
    <circle cx="438.8" cy="156.8" r="2.85"/><circle cx="421.9" cy="161.5" r="2.85"/><circle cx="430" cy="162.4" r="2.85"/>
    <circle cx="430" cy="177.6" r="2.85"/><circle cx="438.8" cy="176.2" r="2.85"/><circle cx="430" cy="190.8" r="2.85"/>
    <circle cx="438.8" cy="197.2" r="2.85"/><circle cx="430" cy="205.1" r="2.85"/>
  </g>
  <path class="ml" d="M418.5,169.5 H441.5"/>
  <!-- group5 Opn45 -->
  <path class="el" d="M459.5,144.6 H471 M459.5,159.4 H471 M465.3,144.6 V159.4"/>
  <g class="bp">
    <circle cx="465.3" cy="135.6" r="2.85"/><circle cx="456.5" cy="148.1" r="2.85"/><circle cx="465.3" cy="156.2" r="2.85"/><circle cx="465.3" cy="170" r="2.85"/>
  </g>
  <path class="ml" d="M453.5,152 H476.2"/>
  <!-- group6 Has45 -->
  <path class="el" d="M494,158 H505.5 M494,186.2 H505.5 M499.7,158 V186.2"/>
  <g class="pp">
    <circle cx="499.7" cy="108.8" r="2.85"/><circle cx="499.7" cy="123.8" r="2.85"/><circle cx="499.7" cy="155" r="2.85"/><circle cx="499.7" cy="170.7" r="2.85"/>
    <circle cx="499.7" cy="196.5" r="2.85"/><circle cx="499.7" cy="206.2" r="2.85"/><circle cx="508" cy="207.2" r="2.85"/><circle cx="499.7" cy="215" r="2.85"/>
  </g>
  <path class="ml" d="M488.4,173 H510.8"/>
  <!-- x labels -->
  <g class="lb" font-size="10.5" font-weight="bold" fill="#111">
    <text x="317.5" y="234.6">WT</text>
    <text x="347.3" y="234.6">Opn<tspan dy="-5.8" font-size="8.4" letter-spacing="0.7">-/-</tspan></text>
    <text x="378.5" y="234.6">Has3<tspan dy="-5.8" font-size="8.4" letter-spacing="0.7">-/-</tspan></text>
    <text x="423.3" y="234.6">WT</text>
    <text x="449.1" y="234.6">Opn<tspan dy="-5.8" font-size="8.4" letter-spacing="0.7">-/-</tspan></text>
    <text x="482.1" y="234.6">Has3<tspan dy="-5.8" font-size="8.4" letter-spacing="0.7">-/-</tspan></text>
    <text x="344.5" y="268.5">15min</text>
    <text x="457.2" y="268.5">45min</text>
  </g>
  <rect x="324.2" y="254.4" width="73.8" height="2" fill="#111"/>
  <rect x="433" y="255" width="74.3" height="2" fill="#111"/>
</g>
<g id="panelD">
<line x1="66.00" y1="462.00" x2="66.00" y2="455.00" class="eb"/>
<line x1="63.20" y1="455.00" x2="68.80" y2="455.00" class="ec"/>
<rect x="60.10" y="462.00" width="11.80" height="54.50" fill="#1a9068" class="bar"/>
<line x1="82.60" y1="458.00" x2="82.60" y2="454.50" class="eb"/>
<line x1="79.80" y1="454.50" x2="85.40" y2="454.50" class="ec"/>
<rect x="76.90" y="458.00" width="11.40" height="58.50" fill="#0a0ae8" class="bar"/>
<line x1="99.30" y1="445.50" x2="99.30" y2="426.00" class="eb"/>
<line x1="96.50" y1="426.00" x2="102.10" y2="426.00" class="ec"/>
<rect x="93.60" y="445.50" width="11.40" height="71.00" fill="#780ca2" class="bar"/>
<line x1="127.10" y1="476.30" x2="127.10" y2="471.50" class="eb"/>
<line x1="124.30" y1="471.50" x2="129.90" y2="471.50" class="ec"/>
<rect x="121.30" y="476.30" width="11.60" height="40.20" fill="#1a9068" class="bar"/>
<line x1="143.35" y1="471.80" x2="143.35" y2="465.60" class="eb"/>
<line x1="140.55" y1="465.60" x2="146.15" y2="465.60" class="ec"/>
<rect x="137.70" y="471.80" width="11.30" height="44.70" fill="#0a0ae8" class="bar"/>
<line x1="160.05" y1="489.80" x2="160.05" y2="475.00" class="eb"/>
<line x1="157.25" y1="475.00" x2="162.85" y2="475.00" class="ec"/>
<rect x="154.40" y="489.80" width="11.30" height="26.70" fill="#780ca2" class="bar"/>
<line x1="187.85" y1="465.00" x2="187.85" y2="459.70" class="eb"/>
<line x1="185.05" y1="459.70" x2="190.65" y2="459.70" class="ec"/>
<rect x="182.20" y="465.00" width="11.30" height="51.50" fill="#1a9068" class="bar"/>
<line x1="204.55" y1="466.90" x2="204.55" y2="460.20" class="eb"/>
<line x1="201.75" y1="460.20" x2="207.35" y2="460.20" class="ec"/>
<rect x="198.90" y="466.90" width="11.30" height="49.60" fill="#0a0ae8" class="bar"/>
<line x1="220.65" y1="461.50" x2="220.65" y2="453.50" class="eb"/>
<line x1="217.85" y1="453.50" x2="223.45" y2="453.50" class="ec"/>
<rect x="215.00" y="461.50" width="11.30" height="55.00" fill="#780ca2" class="bar"/>
<path class="ax" d="M52.5,395 V516.5 H234.7"/>
<path class="ax" d="M49.0,516.50 H52.5 M49.0,486.12 H52.5 M49.0,455.75 H52.5 M49.0,425.38 H52.5 M49.0,395.00 H52.5"/>
<path class="ax" d="M82.8,516.5 V520.0"/>
<path class="ax" d="M143.7,516.5 V520.0"/>
<path class="ax" d="M204.3,516.5 V520.0"/>
<g class="tk" text-anchor="end" style="font-size:8.7px">
<text transform="translate(47.8,519.60) scale(1.0,1)">0</text>
<text transform="translate(47.8,489.23) scale(1.0,1)">20</text>
<text transform="translate(47.8,458.85) scale(1.0,1)">40</text>
<text transform="translate(47.8,428.48) scale(1.0,1)">60</text>
<text transform="translate(47.8,398.10) scale(1.0,1)">80</text>
</g>
<rect x="182.1" y="384.6" width="13.5" height="6.6" fill="#1a9068" class="bar"/>
<text x="202.5" y="391.20000000000005" font-size="10" fill="#222" stroke="#222" stroke-width="0.15">WT</text>
<rect x="182.1" y="398.8" width="13.5" height="6.6" fill="#0a0ae8" class="bar"/>
<text x="202.5" y="405.40000000000003" font-size="10" fill="#222" stroke="#222" stroke-width="0.15">Opn<tspan dy="-4" font-size="5" fill="#999" stroke="none">-/-</tspan></text>
<rect x="182.1" y="412.6" width="13.5" height="6.6" fill="#780ca2" class="bar"/>
<text x="202.5" y="419.20000000000005" font-size="10" fill="#222" stroke="#222" stroke-width="0.15">Has3<tspan dy="-4" font-size="5" fill="#999" stroke="none">-/-</tspan></text>
<g class="lb" font-size="10.8" font-weight="bold" fill="#111">
<text x="72.2" y="536.2">BVs</text>
<text x="119" y="536.5">Crossing</text>
<text x="119" y="547.8">BVs</text>
<text x="192.5" y="535.2">Within</text>
<text x="192.5" y="547.3">Marrow</text>
</g>
<text transform="translate(28,454.1) rotate(-90)" text-anchor="middle" font-size="11.1" fill="#1a1a1a" stroke="#1a1a1a" stroke-width="0.2">Transplanted HSPC in BM (%)</text>
</g>
<g id="panelE">
<line x1="336.25" y1="490.75" x2="336.25" y2="486.25" class="eb"/>
<line x1="333.45" y1="486.25" x2="339.05" y2="486.25" class="ec"/>
<rect x="330.50" y="490.75" width="11.50" height="26.75" fill="#1a9068" class="bar"/>
<line x1="352.62" y1="501.75" x2="352.62" y2="495.75" class="eb"/>
<line x1="349.82" y1="495.75" x2="355.43" y2="495.75" class="ec"/>
<rect x="347.00" y="501.75" width="11.25" height="15.75" fill="#0a0ae8" class="bar"/>
<line x1="369.62" y1="468.75" x2="369.62" y2="462.00" class="eb"/>
<line x1="366.82" y1="462.00" x2="372.43" y2="462.00" class="ec"/>
<rect x="364.25" y="468.75" width="10.75" height="48.75" fill="#780ca2" class="bar"/>
<line x1="397.62" y1="482.00" x2="397.62" y2="478.75" class="eb"/>
<line x1="394.82" y1="478.75" x2="400.43" y2="478.75" class="ec"/>
<rect x="392.00" y="482.00" width="11.25" height="35.50" fill="#1a9068" class="bar"/>
<line x1="414.38" y1="483.00" x2="414.38" y2="477.50" class="eb"/>
<line x1="411.57" y1="477.50" x2="417.18" y2="477.50" class="ec"/>
<rect x="408.75" y="483.00" width="11.25" height="34.50" fill="#0a0ae8" class="bar"/>
<line x1="431.12" y1="472.50" x2="431.12" y2="468.25" class="eb"/>
<line x1="428.32" y1="468.25" x2="433.93" y2="468.25" class="ec"/>
<rect x="425.50" y="472.50" width="11.25" height="45.00" fill="#780ca2" class="bar"/>
<line x1="458.88" y1="426.25" x2="458.88" y2="421.25" class="eb"/>
<line x1="456.07" y1="421.25" x2="461.68" y2="421.25" class="ec"/>
<rect x="453.25" y="426.25" width="11.25" height="91.25" fill="#1a9068" class="bar"/>
<line x1="475.62" y1="414.50" x2="475.62" y2="403.25" class="eb"/>
<line x1="472.82" y1="403.25" x2="478.43" y2="403.25" class="ec"/>
<rect x="470.00" y="414.50" width="11.25" height="103.00" fill="#0a0ae8" class="bar"/>
<line x1="492.38" y1="459.50" x2="492.38" y2="449.50" class="eb"/>
<line x1="489.57" y1="449.50" x2="495.18" y2="449.50" class="ec"/>
<rect x="486.75" y="459.50" width="11.25" height="58.00" fill="#780ca2" class="bar"/>
<path class="ax" d="M321.5,395 V517.5 H506.5"/>
<path class="ax" d="M318.0,517.50 H321.5 M318.0,486.88 H321.5 M318.0,456.25 H321.5 M318.0,425.62 H321.5 M318.0,395.00 H321.5"/>
<path class="ax" d="M352.5,517.5 V521.0"/>
<path class="ax" d="M414.5,517.5 V521.0"/>
<path class="ax" d="M475.8,517.5 V521.0"/>
<g class="tk" text-anchor="end" style="font-size:9.6px">
<text transform="translate(317.3,519.90) scale(1.12,1)">0</text>
<text transform="translate(317.3,489.27) scale(1.12,1)">20</text>
<text transform="translate(317.3,458.65) scale(1.12,1)">40</text>
<text transform="translate(317.3,428.02) scale(1.12,1)">60</text>
<text transform="translate(317.3,397.40) scale(1.12,1)">80</text>
</g>
<rect x="331.25" y="384.5" width="14.25" height="6.6" fill="#1a9068" class="bar"/>
<text x="353" y="391.1" font-size="10" fill="#222" stroke="#222" stroke-width="0.15">WT</text>
<rect x="331.25" y="398.9" width="14.25" height="6.6" fill="#0a0ae8" class="bar"/>
<text x="353" y="405.5" font-size="10" fill="#222" stroke="#222" stroke-width="0.15">Opn<tspan dy="-4" font-size="5" fill="#999" stroke="none">-/-</tspan></text>
<rect x="331.25" y="412.8" width="14.25" height="6.6" fill="#780ca2" class="bar"/>
<text x="353" y="419.40000000000003" font-size="10" fill="#222" stroke="#222" stroke-width="0.15">Has3<tspan dy="-4" font-size="5" fill="#999" stroke="none">-/-</tspan></text>
<g class="lb" font-size="10.8" font-weight="bold" fill="#111">
<text x="343.8" y="537.7">BVs</text>
<text x="391" y="537.5">Crossing</text>
<text x="391" y="549.8">BVs</text>
<text x="465" y="536.2">Within</text>
<text x="465" y="548.8">Marrow</text>
</g>
<path d="M331.25,456.2 V452 H369.5 V456.2" stroke="#111" stroke-width="1.8" fill="none"/>
<text x="350" y="448" text-anchor="middle" font-size="9" font-weight="bold" fill="#111" letter-spacing="0.7">*</text>
<path d="M394.5,466.2 V462 H433.75 V466.2" stroke="#111" stroke-width="1.8" fill="none"/>
<text x="413.75" y="458" text-anchor="middle" font-size="9" font-weight="bold" fill="#111" letter-spacing="0.7">*</text>
<path d="M453.75,403.7 V399.5 H492.5 V403.7" stroke="#111" stroke-width="1.8" fill="none"/>
<text x="473.5" y="392.5" text-anchor="middle" font-size="9" font-weight="bold" fill="#111" letter-spacing="0.7">**</text>
<text transform="translate(298,454.1) rotate(-90)" text-anchor="middle" font-size="11.1" fill="#1a1a1a" stroke="#1a1a1a" stroke-width="0.2">Transplanted HSPC in BM (%)</text>
</g>
<g id="panelF">
<path class="el" d="M73.75,673.25 H93.75 M73.75,680.5 H93.75 M83.75,673.25 V680.5"/>
<g class="gp"><circle cx="83.75" cy="653.4" r="2.6"/><circle cx="76.25" cy="669.25" r="2.6"/><circle cx="83.75" cy="672.5" r="2.6"/><circle cx="91.25" cy="671.75" r="2.6"/><circle cx="76.25" cy="680" r="2.6"/><circle cx="91.25" cy="678.75" r="2.6"/><circle cx="83.75" cy="683" r="2.6"/><circle cx="91.25" cy="688.75" r="2.6"/><circle cx="83.75" cy="691.75" r="2.6"/></g>
<path class="ml" d="M63,676.75 H103.75"/>
<path class="el" d="M136,673.5 H153 M136,676.5 H153 M144.5,673.5 V676.5"/>
<g class="bp"><circle cx="137" cy="673" r="2.6"/><circle cx="144.5" cy="679.25" r="2.6"/><circle cx="152" cy="675.5" r="2.6"/><circle cx="159.25" cy="671.75" r="2.6"/></g>
<path class="ml" d="M124.25,675 H164.5"/>
<path class="el" d="M195,707.5 H215 M195,722 H215 M205,707.5 V722"/>
<g class="pp"><circle cx="205" cy="701.25" r="2.6"/><circle cx="205" cy="716.75" r="2.6"/><circle cx="205" cy="726.75" r="2.6"/></g>
<path class="ml" d="M185.5,714.5 H225"/>
<path class="ax" d="M53.5,638 V759.5 H235.2"/>
<path class="ax" d="M50.0,759.50 H53.5 M50.0,735.20 H53.5 M50.0,710.90 H53.5 M50.0,686.60 H53.5 M50.0,662.30 H53.5 M50.0,638.00 H53.5"/>
<path class="ax" d="M83.75,759.5 V763.0"/>
<path class="ax" d="M144.5,759.5 V763.0"/>
<path class="ax" d="M205,759.5 V763.0"/>
<g class="tk" text-anchor="end" style="font-size:10.3px">
<text transform="translate(46.9,763.00) scale(1.02,1)">0</text>
<text transform="translate(46.9,738.70) scale(1.02,1)">20</text>
<text transform="translate(46.9,714.40) scale(1.02,1)">40</text>
<text transform="translate(46.9,690.10) scale(1.02,1)">60</text>
<text transform="translate(46.9,665.80) scale(1.02,1)">80</text>
<text transform="translate(46.9,641.50) scale(1.02,1)">100</text>
</g>
<path d="M80.5,640.75 V638.25 H200 V640.75" stroke="#111" stroke-width="1.8" fill="none"/>
<text x="135.6" y="631" text-anchor="middle" font-size="9" font-weight="bold" fill="#111" letter-spacing="0.7">***</text>
<g class="lb" font-size="10.8" font-weight="bold" fill="#111">
<text x="75.8" y="775">WT</text>
<text x="129" y="774.25">Opn<tspan dy="-5.8" font-size="8.4" letter-spacing="0.7">-/-</tspan></text>
<text x="188.3" y="774.25">Has3<tspan dy="-5.8" font-size="8.4" letter-spacing="0.7">-/-</tspan></text>
<text x="126.5" y="792.5">15min</text>
</g>
<text transform="translate(12.6,698.4) rotate(-90)" text-anchor="middle" font-size="10.8" fill="#1a1a1a" stroke="#1a1a1a" stroke-width="0.2">Transplanted</text>
<text transform="translate(25.2,698.4) rotate(-90)" text-anchor="middle" font-size="10.8" fill="#1a1a1a" stroke="#1a1a1a" stroke-width="0.2">HSPC in metaphysis (%)</text>
</g>
<g id="panelG">
<path class="el" d="M343.75,667.5 H363.75 M343.75,678 H363.75 M353.75,667.5 V678"/>
<g class="gp"><circle cx="353.75" cy="647" r="2.6"/><circle cx="346.25" cy="658" r="2.6"/><circle cx="353.75" cy="660.75" r="2.6"/><circle cx="353.75" cy="670" r="2.6"/><circle cx="346.25" cy="677.5" r="2.6"/><circle cx="361.25" cy="677" r="2.6"/><circle cx="353.75" cy="682" r="2.6"/><circle cx="353.75" cy="690.75" r="2.6"/><circle cx="361.25" cy="690.75" r="2.6"/></g>
<path class="ml" d="M333,672.5 H374.5"/>
<path class="el" d="M407,670 H427 M407,684 H427 M416.75,670 V684"/>
<g class="bp"><circle cx="416.75" cy="659.25" r="2.6"/><circle cx="416.75" cy="671.75" r="2.6"/><circle cx="416.75" cy="689.25" r="2.6"/><circle cx="424.25" cy="688.75" r="2.6"/></g>
<path class="ml" d="M396.25,677 H437.5"/>
<path class="el" d="M470,684.5 H489 M470,691.5 H489 M479.5,684.5 V691.5"/>
<g class="pp"><circle cx="479.5" cy="663.75" r="2.6"/><circle cx="465" cy="690.5" r="2.6"/><circle cx="472.5" cy="686.75" r="2.6"/><circle cx="479.5" cy="686.75" r="2.6"/><circle cx="487" cy="684.5" r="2.6"/><circle cx="472.5" cy="691.75" r="2.6"/><circle cx="495" cy="690.5" r="2.6"/><circle cx="479.5" cy="698" r="2.6"/><circle cx="487" cy="695.75" r="2.6"/></g>
<path class="ml" d="M458.75,688 H500.75"/>
<path class="ax" d="M322.5,635.5 V761.5 H510.9"/>
<path class="ax" d="M319.0,761.50 H322.5 M319.0,736.30 H322.5 M319.0,711.10 H322.5 M319.0,685.90 H322.5 M319.0,660.70 H322.5 M319.0,635.50 H322.5"/>
<path class="ax" d="M353.75,761.5 V765.0"/>
<path class="ax" d="M416.75,761.5 V765.0"/>
<path class="ax" d="M479.5,761.5 V765.0"/>
<g class="tk" text-anchor="end" style="font-size:10.3px">
<text transform="translate(315.9,765.00) scale(1.02,1)">0</text>
<text transform="translate(315.9,739.80) scale(1.02,1)">20</text>
<text transform="translate(315.9,714.60) scale(1.02,1)">40</text>
<text transform="translate(315.9,689.40) scale(1.02,1)">60</text>
<text transform="translate(315.9,664.20) scale(1.02,1)">80</text>
<text transform="translate(315.9,639.00) scale(1.02,1)">100</text>
</g>
<path d="M350.5,638.0 V635.5 H474.5 V638.0" stroke="#111" stroke-width="1.8" fill="none"/>
<text x="416.25" y="630" text-anchor="middle" font-size="9" font-weight="bold" fill="#111" letter-spacing="0.7">*</text>
<g class="lb" font-size="10.8" font-weight="bold" fill="#111">
<text x="345.8" y="775.5">WT</text>
<text x="400.8" y="776.25">Opn<tspan dy="-5.8" font-size="8.4" letter-spacing="0.7">-/-</tspan></text>
<text x="462.5" y="776.25">Has3<tspan dy="-5.8" font-size="8.4" letter-spacing="0.7">-/-</tspan></text>
<text x="408.3" y="792.5">45min</text>
</g>
<text transform="translate(281.6,696.75) rotate(-90)" text-anchor="middle" font-size="10.8" fill="#1a1a1a" stroke="#1a1a1a" stroke-width="0.2">Transplanted</text>
<text transform="translate(294.4,697.25) rotate(-90)" text-anchor="middle" font-size="10.8" fill="#1a1a1a" stroke="#1a1a1a" stroke-width="0.2">HSPC in metaphysis (%)</text>
</g>
</svg>
</body></html>
